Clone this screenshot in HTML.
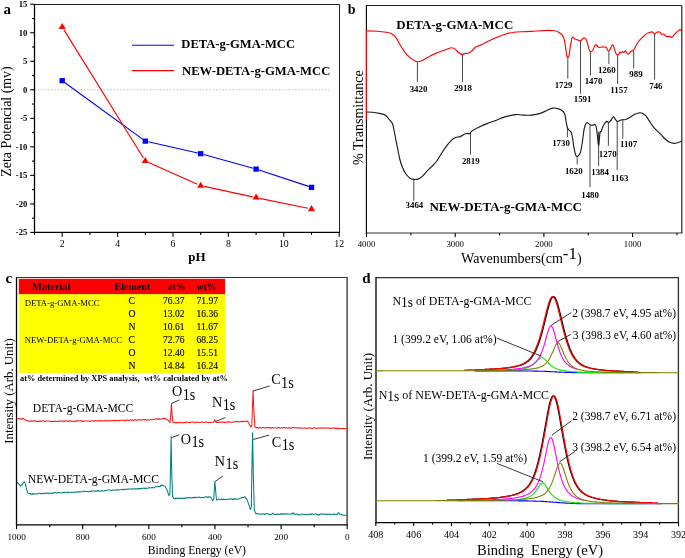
<!DOCTYPE html><html><head><meta charset="utf-8"><title>Figure</title><style>html,body{margin:0;padding:0;background:#fff}svg{display:block}text{font-family:'Liberation Serif', 'Times New Roman', serif}</style></head><body>
<svg width="685" height="558" viewBox="0 0 685 558">
<rect width="685" height="558" fill="#fff"/>
<line x1="34.50" y1="89.80" x2="329.00" y2="89.80" stroke="#b8b8b8" stroke-width="1.00" stroke-dasharray="1.4 1.9"/>
<line x1="34.50" y1="4.50" x2="339.50" y2="4.50" stroke="#222" stroke-width="1.00" />
<line x1="339.50" y1="4.50" x2="339.50" y2="232.40" stroke="#222" stroke-width="1.00" />
<line x1="34.50" y1="4.00" x2="34.50" y2="233.00" stroke="#000" stroke-width="1.30" />
<line x1="33.90" y1="232.40" x2="340.00" y2="232.40" stroke="#000" stroke-width="1.30" />
<line x1="30.20" y1="4.22" x2="34.50" y2="4.22" stroke="#000" stroke-width="1.10" />
<text x="27.30" y="7.22" font-size="8.60" font-weight="bold" text-anchor="end" fill="#000">15</text>
<line x1="30.20" y1="32.75" x2="34.50" y2="32.75" stroke="#000" stroke-width="1.10" />
<text x="27.30" y="35.75" font-size="8.60" font-weight="bold" text-anchor="end" fill="#000">10</text>
<line x1="30.20" y1="61.27" x2="34.50" y2="61.27" stroke="#000" stroke-width="1.10" />
<text x="27.30" y="64.28" font-size="8.60" font-weight="bold" text-anchor="end" fill="#000">5</text>
<line x1="30.20" y1="89.80" x2="34.50" y2="89.80" stroke="#000" stroke-width="1.10" />
<text x="27.30" y="92.80" font-size="8.60" font-weight="bold" text-anchor="end" fill="#000">0</text>
<line x1="30.20" y1="118.32" x2="34.50" y2="118.32" stroke="#000" stroke-width="1.10" />
<text x="27.30" y="121.32" font-size="8.60" font-weight="bold" text-anchor="end" fill="#000">-5</text>
<line x1="30.20" y1="146.85" x2="34.50" y2="146.85" stroke="#000" stroke-width="1.10" />
<text x="27.30" y="149.85" font-size="8.60" font-weight="bold" text-anchor="end" fill="#000">-10</text>
<line x1="30.20" y1="175.38" x2="34.50" y2="175.38" stroke="#000" stroke-width="1.10" />
<text x="27.30" y="178.38" font-size="8.60" font-weight="bold" text-anchor="end" fill="#000">-15</text>
<line x1="30.20" y1="203.90" x2="34.50" y2="203.90" stroke="#000" stroke-width="1.10" />
<text x="27.30" y="206.90" font-size="8.60" font-weight="bold" text-anchor="end" fill="#000">-20</text>
<line x1="30.20" y1="232.43" x2="34.50" y2="232.43" stroke="#000" stroke-width="1.10" />
<text x="27.30" y="235.43" font-size="8.60" font-weight="bold" text-anchor="end" fill="#000">-25</text>
<line x1="32.00" y1="18.49" x2="34.50" y2="18.49" stroke="#000" stroke-width="1.10" />
<line x1="32.00" y1="47.01" x2="34.50" y2="47.01" stroke="#000" stroke-width="1.10" />
<line x1="32.00" y1="75.54" x2="34.50" y2="75.54" stroke="#000" stroke-width="1.10" />
<line x1="32.00" y1="104.06" x2="34.50" y2="104.06" stroke="#000" stroke-width="1.10" />
<line x1="32.00" y1="132.59" x2="34.50" y2="132.59" stroke="#000" stroke-width="1.10" />
<line x1="32.00" y1="161.11" x2="34.50" y2="161.11" stroke="#000" stroke-width="1.10" />
<line x1="32.00" y1="189.64" x2="34.50" y2="189.64" stroke="#000" stroke-width="1.10" />
<line x1="32.00" y1="218.16" x2="34.50" y2="218.16" stroke="#000" stroke-width="1.10" />
<line x1="62.20" y1="232.40" x2="62.20" y2="236.70" stroke="#000" stroke-width="1.10" />
<text x="62.20" y="247.30" font-size="9.80" text-anchor="middle" fill="#000">2</text>
<line x1="117.60" y1="232.40" x2="117.60" y2="236.70" stroke="#000" stroke-width="1.10" />
<text x="117.60" y="247.30" font-size="9.80" text-anchor="middle" fill="#000">4</text>
<line x1="173.00" y1="232.40" x2="173.00" y2="236.70" stroke="#000" stroke-width="1.10" />
<text x="173.00" y="247.30" font-size="9.80" text-anchor="middle" fill="#000">6</text>
<line x1="228.40" y1="232.40" x2="228.40" y2="236.70" stroke="#000" stroke-width="1.10" />
<text x="228.40" y="247.30" font-size="9.80" text-anchor="middle" fill="#000">8</text>
<line x1="283.80" y1="232.40" x2="283.80" y2="236.70" stroke="#000" stroke-width="1.10" />
<text x="283.80" y="247.30" font-size="9.80" text-anchor="middle" fill="#000">10</text>
<line x1="339.20" y1="232.40" x2="339.20" y2="236.70" stroke="#000" stroke-width="1.10" />
<text x="339.20" y="247.30" font-size="9.80" text-anchor="middle" fill="#000">12</text>
<line x1="34.50" y1="232.40" x2="34.50" y2="234.90" stroke="#000" stroke-width="1.10" />
<line x1="89.90" y1="232.40" x2="89.90" y2="234.90" stroke="#000" stroke-width="1.10" />
<line x1="145.30" y1="232.40" x2="145.30" y2="234.90" stroke="#000" stroke-width="1.10" />
<line x1="200.70" y1="232.40" x2="200.70" y2="234.90" stroke="#000" stroke-width="1.10" />
<line x1="256.10" y1="232.40" x2="256.10" y2="234.90" stroke="#000" stroke-width="1.10" />
<line x1="311.50" y1="232.40" x2="311.50" y2="234.90" stroke="#000" stroke-width="1.10" />
<line x1="64.63" y1="82.44" x2="142.87" y2="139.38" stroke="#0000ff" stroke-width="1.15" />
<line x1="148.23" y1="141.81" x2="197.77" y2="153.03" stroke="#0000ff" stroke-width="1.15" />
<line x1="203.59" y1="154.50" x2="253.21" y2="168.30" stroke="#0000ff" stroke-width="1.15" />
<line x1="258.95" y1="170.04" x2="308.65" y2="186.42" stroke="#0000ff" stroke-width="1.15" />
<rect x="59.50" y="78.07" width="5.4" height="5.2" fill="#0000ff"/>
<rect x="142.60" y="138.54" width="5.4" height="5.2" fill="#0000ff"/>
<rect x="198.00" y="151.10" width="5.4" height="5.2" fill="#0000ff"/>
<rect x="253.40" y="166.50" width="5.4" height="5.2" fill="#0000ff"/>
<rect x="308.80" y="184.76" width="5.4" height="5.2" fill="#0000ff"/>
<line x1="64.10" y1="30.10" x2="143.40" y2="158.05" stroke="#ff0000" stroke-width="1.15" />
<line x1="148.59" y1="162.57" x2="197.41" y2="184.19" stroke="#ff0000" stroke-width="1.15" />
<line x1="204.22" y1="186.40" x2="252.58" y2="196.86" stroke="#ff0000" stroke-width="1.15" />
<line x1="259.63" y1="198.35" x2="307.97" y2="208.31" stroke="#ff0000" stroke-width="1.15" />
<polygon points="62.20,23.04 58.60,29.04 65.80,29.04" fill="#ff0000"/>
<polygon points="145.30,157.11 141.70,163.11 148.90,163.11" fill="#ff0000"/>
<polygon points="200.70,181.64 197.10,187.64 204.30,187.64" fill="#ff0000"/>
<polygon points="256.10,193.62 252.50,199.62 259.70,199.62" fill="#ff0000"/>
<polygon points="311.50,205.03 307.90,211.03 315.10,211.03" fill="#ff0000"/>
<line x1="132.00" y1="45.20" x2="174.00" y2="45.20" stroke="#0000ff" stroke-width="1.15" />
<line x1="132.00" y1="70.60" x2="174.00" y2="70.60" stroke="#ff0000" stroke-width="1.15" />
<text x="181.30" y="48.30" font-size="13.20" font-weight="bold" text-anchor="start" textLength="113.7" lengthAdjust="spacingAndGlyphs" fill="#000">DETA-g-GMA-MCC</text>
<text x="182.00" y="74.90" font-size="13.20" font-weight="bold" text-anchor="start" textLength="148.3" lengthAdjust="spacingAndGlyphs" fill="#000">NEW-DETA-g-GMA-MCC</text>
<text x="3.60" y="13.80" font-size="15.00" font-weight="bold" text-anchor="start" fill="#000">a</text>
<text x="197.00" y="261.00" font-size="13.00" font-weight="bold" text-anchor="middle" fill="#000">pH</text>
<text x="11.00" y="121.50" font-size="13.90" text-anchor="middle" transform="rotate(-90 11.00 121.50)" fill="#000">Zeta Potencial (mv)</text>
<line x1="366.40" y1="5.50" x2="681.80" y2="5.50" stroke="#222" stroke-width="1.00" />
<line x1="681.80" y1="5.50" x2="681.80" y2="233.00" stroke="#222" stroke-width="1.20" />
<line x1="366.40" y1="5.00" x2="366.40" y2="233.60" stroke="#000" stroke-width="1.10" />
<line x1="365.80" y1="233.00" x2="682.40" y2="233.00" stroke="#333" stroke-width="1.20" />
<line x1="366.50" y1="233.00" x2="366.50" y2="237.00" stroke="#000" stroke-width="1.10" />
<text x="366.50" y="246.90" font-size="8.80" text-anchor="middle" fill="#000">4000</text>
<line x1="455.20" y1="233.00" x2="455.20" y2="237.00" stroke="#000" stroke-width="1.10" />
<text x="455.20" y="246.90" font-size="8.80" text-anchor="middle" fill="#000">3000</text>
<line x1="543.90" y1="233.00" x2="543.90" y2="237.00" stroke="#000" stroke-width="1.10" />
<text x="543.90" y="246.90" font-size="8.80" text-anchor="middle" fill="#000">2000</text>
<line x1="632.60" y1="233.00" x2="632.60" y2="237.00" stroke="#000" stroke-width="1.10" />
<text x="632.60" y="246.90" font-size="8.80" text-anchor="middle" fill="#000">1000</text>
<line x1="410.85" y1="233.00" x2="410.85" y2="235.30" stroke="#000" stroke-width="1.10" />
<line x1="499.55" y1="233.00" x2="499.55" y2="235.30" stroke="#000" stroke-width="1.10" />
<line x1="588.25" y1="233.00" x2="588.25" y2="235.30" stroke="#000" stroke-width="1.10" />
<line x1="676.95" y1="233.00" x2="676.95" y2="235.30" stroke="#000" stroke-width="1.10" />
<line x1="417.40" y1="62.20" x2="417.40" y2="81.90" stroke="#333" stroke-width="0.90" />
<text x="418.50" y="91.80" font-size="8.90" font-weight="bold" text-anchor="middle" fill="#000">3420</text>
<line x1="462.50" y1="54.80" x2="462.50" y2="81.90" stroke="#333" stroke-width="0.90" />
<text x="463.00" y="90.90" font-size="8.90" font-weight="bold" text-anchor="middle" fill="#000">2918</text>
<line x1="567.80" y1="57.70" x2="567.80" y2="78.80" stroke="#333" stroke-width="0.90" />
<text x="563.50" y="87.90" font-size="8.90" font-weight="bold" text-anchor="middle" fill="#000">1729</text>
<line x1="580.50" y1="41.00" x2="580.50" y2="93.80" stroke="#333" stroke-width="0.90" />
<text x="582.60" y="102.10" font-size="8.90" font-weight="bold" text-anchor="middle" fill="#000">1591</text>
<line x1="590.50" y1="52.10" x2="590.50" y2="75.30" stroke="#333" stroke-width="0.90" />
<text x="593.50" y="83.90" font-size="8.90" font-weight="bold" text-anchor="middle" fill="#000">1470</text>
<line x1="608.90" y1="51.60" x2="608.90" y2="63.90" stroke="#333" stroke-width="0.90" />
<text x="606.80" y="72.60" font-size="8.90" font-weight="bold" text-anchor="middle" fill="#000">1260</text>
<line x1="617.60" y1="55.40" x2="617.60" y2="84.10" stroke="#333" stroke-width="0.90" />
<text x="619.00" y="92.60" font-size="8.90" font-weight="bold" text-anchor="middle" fill="#000">1157</text>
<line x1="633.70" y1="50.70" x2="633.70" y2="68.60" stroke="#333" stroke-width="0.90" />
<text x="636.00" y="76.80" font-size="8.90" font-weight="bold" text-anchor="middle" fill="#000">989</text>
<line x1="654.60" y1="34.00" x2="654.60" y2="79.70" stroke="#333" stroke-width="0.90" />
<text x="655.90" y="89.10" font-size="8.90" font-weight="bold" text-anchor="middle" fill="#000">746</text>
<line x1="413.80" y1="180.00" x2="413.80" y2="200.70" stroke="#333" stroke-width="0.90" />
<text x="414.40" y="208.00" font-size="8.90" font-weight="bold" text-anchor="middle" fill="#000">3464</text>
<line x1="470.50" y1="133.70" x2="470.50" y2="154.50" stroke="#333" stroke-width="0.90" />
<text x="470.80" y="163.60" font-size="8.90" font-weight="bold" text-anchor="middle" fill="#000">2819</text>
<line x1="567.40" y1="127.80" x2="567.40" y2="137.10" stroke="#333" stroke-width="0.90" />
<text x="561.00" y="145.70" font-size="8.90" font-weight="bold" text-anchor="middle" fill="#000">1730</text>
<line x1="577.20" y1="156.80" x2="577.20" y2="164.40" stroke="#333" stroke-width="0.90" />
<text x="573.80" y="173.80" font-size="8.90" font-weight="bold" text-anchor="middle" fill="#000">1620</text>
<line x1="590.00" y1="125.50" x2="590.00" y2="187.00" stroke="#333" stroke-width="0.90" />
<text x="590.10" y="197.50" font-size="8.90" font-weight="bold" text-anchor="middle" fill="#000">1480</text>
<line x1="598.60" y1="131.60" x2="598.60" y2="165.90" stroke="#333" stroke-width="0.90" />
<text x="600.10" y="175.00" font-size="8.90" font-weight="bold" text-anchor="middle" fill="#000">1384</text>
<line x1="608.40" y1="122.00" x2="608.40" y2="145.70" stroke="#333" stroke-width="0.90" />
<text x="607.70" y="157.40" font-size="8.90" font-weight="bold" text-anchor="middle" fill="#000">1270</text>
<line x1="617.20" y1="122.00" x2="617.20" y2="170.30" stroke="#333" stroke-width="0.90" />
<text x="619.70" y="181.10" font-size="8.90" font-weight="bold" text-anchor="middle" fill="#000">1163</text>
<line x1="622.80" y1="120.20" x2="622.80" y2="138.70" stroke="#333" stroke-width="0.90" />
<text x="628.60" y="147.40" font-size="8.90" font-weight="bold" text-anchor="middle" fill="#000">1107</text>
<path fill="none" stroke="#1a1a1a" stroke-width="1.15" stroke-linejoin="round" d="M366.5,112.0C367.5,112.0 370.2,112.1 372.3,112.3C374.4,112.5 377.1,112.9 379.3,113.4C381.5,113.9 383.9,114.3 385.5,115.3C387.1,116.3 387.8,117.9 389.0,119.3C390.2,120.7 391.6,121.7 392.5,123.7C393.4,125.8 393.7,128.8 394.3,131.6C394.9,134.4 395.4,137.5 396.0,140.4C396.6,143.3 397.2,146.3 397.8,149.2C398.4,152.1 398.8,155.1 399.5,158.0C400.2,160.9 401.2,164.2 402.2,166.8C403.2,169.4 404.4,171.9 405.7,173.8C407.0,175.7 408.8,177.3 410.1,178.2C411.4,179.1 412.3,179.2 413.6,179.4C414.9,179.6 416.5,179.6 418.0,179.1C419.5,178.6 420.8,177.9 422.4,176.4C424.0,174.9 426.1,172.0 427.7,170.3C429.3,168.6 430.6,167.9 432.0,166.4C433.4,164.9 434.9,163.5 436.4,161.5C437.9,159.5 439.2,157.0 440.8,154.5C442.4,152.0 444.3,148.9 446.1,146.6C447.9,144.2 449.8,141.9 451.4,140.4C453.0,138.9 454.3,138.0 455.8,137.4C457.3,136.8 458.6,137.2 460.2,136.6C461.8,136.0 463.8,134.2 465.4,133.7C467.0,133.2 469.1,133.9 470.0,133.6C470.9,133.3 470.4,132.4 471.0,131.8C471.6,131.2 472.2,130.8 473.5,130.1C474.8,129.3 476.4,128.4 478.8,127.3C481.2,126.2 484.7,124.6 487.6,123.4C490.5,122.2 493.5,121.3 496.4,120.2C499.3,119.1 501.9,117.8 505.1,116.9C508.3,116.0 512.8,114.9 515.7,114.6C518.6,114.3 520.1,115.0 522.7,115.1C525.3,115.2 528.6,115.4 531.5,115.1C534.4,114.8 537.7,114.2 540.3,113.4C542.9,112.6 545.2,111.1 547.3,110.2C549.3,109.3 550.8,108.4 552.6,108.1C554.4,107.8 556.3,108.2 557.9,108.6C559.5,109.0 561.1,109.7 562.3,110.7C563.5,111.7 564.3,112.8 564.9,114.6C565.5,116.4 565.7,119.4 566.1,121.6C566.5,123.8 567.0,126.3 567.5,127.8C568.0,129.3 568.7,129.7 569.3,130.4C569.9,131.1 570.6,131.0 571.1,132.2C571.6,133.4 572.1,135.2 572.5,137.5C572.9,139.8 573.2,143.4 573.7,146.2C574.2,149.0 574.9,152.4 575.4,154.1C575.9,155.8 576.3,156.3 576.9,156.5C577.5,156.7 578.2,156.1 578.8,155.4C579.4,154.7 579.9,154.3 580.5,152.2C581.1,150.0 581.7,146.3 582.3,142.5C582.9,138.7 583.5,132.4 584.1,129.3C584.7,126.2 585.2,124.8 585.8,123.7C586.4,122.6 586.8,122.6 587.6,122.8C588.4,123.0 589.6,124.7 590.5,125.1C591.4,125.5 592.3,125.2 593.1,125.1C593.9,125.0 594.6,123.9 595.2,124.6C595.8,125.2 596.2,126.7 596.6,129.0C597.0,131.3 597.4,135.9 597.7,138.7C598.0,141.5 598.3,146.0 598.6,146.0C598.9,146.0 599.1,141.0 599.4,138.7C599.6,136.4 599.8,133.2 600.1,132.0C600.4,130.8 600.8,132.2 601.2,131.6C601.6,130.9 601.8,129.4 602.3,128.1C602.8,126.8 603.8,124.8 604.5,123.7C605.2,122.6 606.1,121.6 606.8,121.4C607.5,121.2 608.0,122.6 608.6,122.5C609.2,122.4 609.9,121.7 610.7,120.7C611.5,119.7 612.6,117.0 613.3,116.7C614.0,116.4 614.5,118.2 615.1,119.0C615.8,119.8 616.5,121.1 617.2,121.4C617.9,121.7 618.7,121.0 619.5,120.7C620.3,120.4 621.2,119.9 622.1,119.7C623.0,119.5 623.9,119.9 624.8,119.7C625.7,119.5 626.4,119.3 627.4,118.8C628.4,118.3 629.6,117.5 630.9,116.7C632.2,115.9 633.8,114.8 635.3,114.1C636.8,113.4 638.5,112.9 639.7,112.8C640.9,112.7 641.3,112.7 642.3,113.2C643.3,113.7 644.7,114.5 645.9,115.8C647.1,117.1 648.2,119.3 649.4,121.1C650.6,122.9 651.7,124.9 652.9,126.4C654.1,127.9 655.1,128.9 656.4,130.2C657.7,131.5 659.3,132.8 660.8,134.3C662.3,135.8 663.7,137.7 665.2,139.0C666.7,140.3 668.1,141.5 669.6,142.2C671.1,142.9 672.5,143.3 674.0,143.4C675.5,143.5 677.2,142.8 678.4,142.5C679.6,142.2 680.8,141.5 681.3,141.3"/>
<path fill="none" stroke="#ff0000" stroke-width="1.15" stroke-linejoin="round" d="M366.5,30.9C368.4,30.9 374.3,31.0 377.6,31.2C380.9,31.4 384.1,31.9 386.4,32.3C388.7,32.7 390.0,32.8 391.6,33.7C393.2,34.6 394.7,35.9 396.0,37.6C397.3,39.3 398.2,41.5 399.5,43.7C400.8,45.9 402.3,48.6 403.9,50.8C405.5,53.0 407.4,55.2 409.2,56.9C411.0,58.6 413.1,60.0 414.5,60.8C415.9,61.6 416.4,61.7 417.6,61.7C418.8,61.7 419.7,61.6 421.5,60.8C423.3,60.0 426.1,58.1 428.5,56.9C430.9,55.7 433.2,54.4 435.6,53.4C438.0,52.4 440.4,51.6 442.6,50.8C444.8,50.0 447.2,49.0 448.7,48.5C450.2,48.0 450.7,47.7 451.7,47.8C452.7,47.9 453.8,48.2 454.9,49.0C456.0,49.8 457.2,51.6 458.4,52.5C459.6,53.4 460.7,54.2 461.9,54.4C463.1,54.5 464.2,53.6 465.4,53.4C466.6,53.2 467.8,53.5 469.0,53.0C470.2,52.5 471.4,51.2 472.5,50.2C473.6,49.2 474.0,48.1 475.3,47.2C476.6,46.4 478.4,46.0 480.5,45.1C482.6,44.2 485.0,42.9 487.6,41.6C490.2,40.3 493.5,38.7 496.4,37.5C499.3,36.3 502.2,35.2 505.1,34.3C508.0,33.4 511.0,32.6 513.9,32.2C516.8,31.8 519.8,31.8 522.7,31.7C525.6,31.6 528.6,31.6 531.5,31.4C534.4,31.2 537.4,30.9 540.3,30.7C543.2,30.5 546.8,30.3 549.1,30.3C551.5,30.3 552.8,30.4 554.4,30.7C556.0,31.0 557.5,31.5 558.8,32.2C560.1,33.0 561.4,33.9 562.3,35.2C563.2,36.5 563.8,37.8 564.4,40.1C565.0,42.4 565.4,46.2 565.8,48.9C566.2,51.5 566.6,54.6 567.0,56.0C567.4,57.4 567.8,57.5 568.1,57.4C568.5,57.2 568.7,57.1 569.1,55.1C569.5,53.1 570.0,48.2 570.5,45.4C571.0,42.6 571.5,39.8 571.9,38.4C572.3,37.0 572.5,37.0 573.0,37.0C573.5,37.0 573.9,38.2 574.6,38.7C575.3,39.2 576.2,39.5 577.2,39.8C578.2,40.1 579.8,40.9 580.7,40.7C581.6,40.5 581.9,39.2 582.6,38.7C583.3,38.2 584.1,37.8 584.7,38.0C585.3,38.2 585.8,38.7 586.4,40.1C587.0,41.5 587.7,44.5 588.2,46.3C588.7,48.1 589.2,49.8 589.6,50.7C590.0,51.6 590.3,51.8 590.8,51.7C591.3,51.6 592.2,51.2 592.8,50.3C593.4,49.4 594.0,47.3 594.5,46.3C595.0,45.3 595.4,44.5 595.9,44.5C596.4,44.5 596.9,45.8 597.5,46.3C598.1,46.8 598.6,47.4 599.3,47.5C600.0,47.6 601.0,46.8 601.9,46.8C602.8,46.8 603.8,47.1 604.5,47.2C605.2,47.3 605.8,46.7 606.3,47.2C606.8,47.7 607.3,49.7 607.7,50.3C608.1,50.9 608.5,51.2 608.9,51.0C609.3,50.8 609.8,49.8 610.3,48.9C610.8,48.0 611.2,46.4 611.7,45.8C612.2,45.2 612.8,44.7 613.2,45.1C613.6,45.5 613.8,46.8 614.2,48.1C614.6,49.4 615.1,51.6 615.6,52.8C616.1,54.0 616.9,54.8 617.4,55.1C617.9,55.4 618.2,55.1 618.6,54.6C619.0,54.1 619.6,52.4 620.0,52.1C620.4,51.8 620.8,52.9 621.2,52.8C621.6,52.7 622.2,51.6 622.6,51.6C623.0,51.6 623.5,52.6 623.9,52.5C624.3,52.4 624.9,50.7 625.3,50.7C625.7,50.7 626.1,51.9 626.5,52.5C626.9,53.1 627.4,54.2 627.9,54.2C628.4,54.2 629.1,53.3 629.7,52.8C630.3,52.3 630.8,51.4 631.4,51.0C632.0,50.6 632.7,50.7 633.2,50.3C633.7,49.9 633.8,49.7 634.4,48.6C635.0,47.5 636.2,45.1 637.1,43.7C638.0,42.3 638.7,41.3 639.7,40.1C640.7,38.9 642.0,37.7 643.2,36.6C644.4,35.5 645.7,34.3 646.7,33.6C647.7,32.9 648.5,32.9 649.4,32.6C650.3,32.3 651.3,31.8 652.0,31.9C652.7,32.0 653.3,32.8 653.8,33.1C654.3,33.5 654.5,34.1 655.0,34.0C655.5,33.9 655.9,32.5 656.7,32.2C657.5,31.9 659.1,31.8 659.9,32.2C660.7,32.6 661.1,34.2 661.7,34.5C662.4,34.8 663.1,33.7 663.8,34.0C664.5,34.3 665.3,35.9 666.1,36.3C666.9,36.7 668.0,36.6 668.7,36.6C669.4,36.6 669.9,36.1 670.4,36.3C670.9,36.4 671.3,37.7 671.9,37.5C672.5,37.3 673.1,35.9 674.0,34.9C674.9,33.9 676.5,32.3 677.5,31.4C678.5,30.5 679.5,29.8 680.1,29.6C680.7,29.5 681.1,30.4 681.3,30.5"/>
<line x1="366.40" y1="30.50" x2="366.40" y2="119.70" stroke="#ff0000" stroke-width="1.10" />
<text x="396.30" y="28.70" font-size="12.90" font-weight="bold" text-anchor="start" textLength="117" lengthAdjust="spacingAndGlyphs" fill="#000">DETA-g-GMA-MCC</text>
<text x="429.40" y="211.10" font-size="13.00" font-weight="bold" text-anchor="start" textLength="152.6" lengthAdjust="spacingAndGlyphs" fill="#000">NEW-DETA-g-GMA-MCC</text>
<text x="347.80" y="13.80" font-size="14.00" font-weight="bold" text-anchor="start" fill="#000">b</text>
<text x="461.0" y="262.5" font-size="14.05" fill="#000">Wavenumbers(cm<tspan font-size="17" dy="-3.6">-1</tspan><tspan dy="3.6">)</tspan></text>
<text x="363.00" y="117.60" font-size="14.05" text-anchor="middle" transform="rotate(-90 363.00 117.60)" fill="#000">% Transmittance</text>
<line x1="16.50" y1="277.50" x2="347.70" y2="277.50" stroke="#333" stroke-width="1.20" />
<line x1="347.10" y1="277.50" x2="347.10" y2="524.80" stroke="#333" stroke-width="1.30" />
<line x1="16.50" y1="277.00" x2="16.50" y2="525.40" stroke="#000" stroke-width="1.30" />
<line x1="15.90" y1="524.80" x2="347.70" y2="524.80" stroke="#000" stroke-width="1.30" />
<line x1="347.20" y1="524.80" x2="347.20" y2="529.30" stroke="#000" stroke-width="1.10" />
<text x="347.20" y="539.70" font-size="9.20" text-anchor="middle" fill="#000">0</text>
<line x1="281.08" y1="524.80" x2="281.08" y2="529.30" stroke="#000" stroke-width="1.10" />
<text x="281.08" y="539.70" font-size="9.20" text-anchor="middle" fill="#000">200</text>
<line x1="214.96" y1="524.80" x2="214.96" y2="529.30" stroke="#000" stroke-width="1.10" />
<text x="214.96" y="539.70" font-size="9.20" text-anchor="middle" fill="#000">400</text>
<line x1="148.84" y1="524.80" x2="148.84" y2="529.30" stroke="#000" stroke-width="1.10" />
<text x="148.84" y="539.70" font-size="9.20" text-anchor="middle" fill="#000">600</text>
<line x1="82.72" y1="524.80" x2="82.72" y2="529.30" stroke="#000" stroke-width="1.10" />
<text x="82.72" y="539.70" font-size="9.20" text-anchor="middle" fill="#000">800</text>
<line x1="16.60" y1="524.80" x2="16.60" y2="529.30" stroke="#000" stroke-width="1.10" />
<text x="16.60" y="539.70" font-size="9.20" text-anchor="middle" fill="#000">1000</text>
<line x1="314.14" y1="524.80" x2="314.14" y2="527.30" stroke="#000" stroke-width="1.10" />
<line x1="248.02" y1="524.80" x2="248.02" y2="527.30" stroke="#000" stroke-width="1.10" />
<line x1="181.90" y1="524.80" x2="181.90" y2="527.30" stroke="#000" stroke-width="1.10" />
<line x1="115.78" y1="524.80" x2="115.78" y2="527.30" stroke="#000" stroke-width="1.10" />
<line x1="49.66" y1="524.80" x2="49.66" y2="527.30" stroke="#000" stroke-width="1.10" />
<rect x="18.8" y="278.8" width="206.3" height="15.6" fill="#ff0000"/>
<rect x="18.8" y="294.2" width="206.3" height="78.7" fill="#ffff00"/>
<text x="32.00" y="289.90" font-size="10.30" font-weight="bold" text-anchor="start" textLength="38.4" lengthAdjust="spacingAndGlyphs" fill="#000">Material</text>
<text x="114.50" y="289.90" font-size="10.10" font-weight="bold" text-anchor="start" textLength="35.8" lengthAdjust="spacingAndGlyphs" fill="#000">Element</text>
<text x="167.70" y="289.90" font-size="10.20" font-weight="bold" text-anchor="start" textLength="17.7" lengthAdjust="spacingAndGlyphs" fill="#000">at%</text>
<text x="196.40" y="289.90" font-size="10.20" font-weight="bold" text-anchor="start" textLength="20.1" lengthAdjust="spacingAndGlyphs" fill="#000">wt%</text>
<text x="24.70" y="306.20" font-size="8.70" text-anchor="start" textLength="74.9" lengthAdjust="spacingAndGlyphs" fill="#000">DETA-g-GMA-MCC</text>
<text x="24.70" y="342.70" font-size="8.70" text-anchor="start" textLength="97.3" lengthAdjust="spacingAndGlyphs" fill="#000">NEW-DETA-g-GMA-MCC</text>
<text x="128.60" y="304.00" font-size="9.70" text-anchor="start" stroke="#000" stroke-width="0.12" fill="#000">C</text>
<text x="163.10" y="304.00" font-size="9.50" text-anchor="start" textLength="21.4" lengthAdjust="spacingAndGlyphs" stroke="#000" stroke-width="0.12" fill="#000">76.37</text>
<text x="196.40" y="304.00" font-size="9.50" text-anchor="start" textLength="21.6" lengthAdjust="spacingAndGlyphs" stroke="#000" stroke-width="0.12" fill="#000">71.97</text>
<text x="128.60" y="316.97" font-size="9.70" text-anchor="start" stroke="#000" stroke-width="0.12" fill="#000">O</text>
<text x="163.10" y="316.97" font-size="9.50" text-anchor="start" textLength="21.4" lengthAdjust="spacingAndGlyphs" stroke="#000" stroke-width="0.12" fill="#000">13.02</text>
<text x="196.40" y="316.97" font-size="9.50" text-anchor="start" textLength="21.6" lengthAdjust="spacingAndGlyphs" stroke="#000" stroke-width="0.12" fill="#000">16.36</text>
<text x="128.60" y="329.94" font-size="9.70" text-anchor="start" stroke="#000" stroke-width="0.12" fill="#000">N</text>
<text x="163.10" y="329.94" font-size="9.50" text-anchor="start" textLength="21.4" lengthAdjust="spacingAndGlyphs" stroke="#000" stroke-width="0.12" fill="#000">10.61</text>
<text x="196.40" y="329.94" font-size="9.50" text-anchor="start" textLength="21.6" lengthAdjust="spacingAndGlyphs" stroke="#000" stroke-width="0.12" fill="#000">11.67</text>
<text x="128.60" y="342.91" font-size="9.70" text-anchor="start" stroke="#000" stroke-width="0.12" fill="#000">C</text>
<text x="163.10" y="342.91" font-size="9.50" text-anchor="start" textLength="21.4" lengthAdjust="spacingAndGlyphs" stroke="#000" stroke-width="0.12" fill="#000">72.76</text>
<text x="196.40" y="342.91" font-size="9.50" text-anchor="start" textLength="21.6" lengthAdjust="spacingAndGlyphs" stroke="#000" stroke-width="0.12" fill="#000">68.25</text>
<text x="128.60" y="355.88" font-size="9.70" text-anchor="start" stroke="#000" stroke-width="0.12" fill="#000">O</text>
<text x="163.10" y="355.88" font-size="9.50" text-anchor="start" textLength="21.4" lengthAdjust="spacingAndGlyphs" stroke="#000" stroke-width="0.12" fill="#000">12.40</text>
<text x="196.40" y="355.88" font-size="9.50" text-anchor="start" textLength="21.6" lengthAdjust="spacingAndGlyphs" stroke="#000" stroke-width="0.12" fill="#000">15.51</text>
<text x="128.60" y="368.85" font-size="9.70" text-anchor="start" stroke="#000" stroke-width="0.12" fill="#000">N</text>
<text x="163.10" y="368.85" font-size="9.50" text-anchor="start" textLength="21.4" lengthAdjust="spacingAndGlyphs" stroke="#000" stroke-width="0.12" fill="#000">14.84</text>
<text x="196.40" y="368.85" font-size="9.50" text-anchor="start" textLength="21.6" lengthAdjust="spacingAndGlyphs" stroke="#000" stroke-width="0.12" fill="#000">16.24</text>
<text x="20.00" y="380.50" font-size="8.30" font-weight="bold" text-anchor="start" textLength="207.8" lengthAdjust="spacingAndGlyphs" xml:space="preserve" fill="#000">at% determined by XPS analysis,&#160; wt% calculated by at%</text>
<polyline fill="none" stroke="#ff1a1a" stroke-width="1.05" stroke-linejoin="round" stroke-linecap="round"  points="17.2,418.8 17.8,418.9 18.4,418.6 19.0,418.7 19.7,419.0 20.3,418.7 21.0,419.0 21.7,419.4 22.3,418.5 23.0,418.2 23.7,419.2 24.3,419.2 25.0,419.9 25.8,419.9 26.5,420.4 27.2,420.3 28.0,421.1 28.7,421.3 29.4,421.0 30.1,421.2 30.8,421.2 31.5,420.6 32.2,421.3 32.9,421.1 33.6,420.9 34.3,420.6 35.0,421.4 35.7,421.0 36.3,421.2 37.0,421.4 37.7,421.3 38.4,421.4 39.1,421.0 39.8,421.3 40.5,421.0 41.2,421.5 41.9,421.4 42.6,420.7 43.3,420.8 44.0,420.8 44.7,421.5 45.4,421.1 46.1,421.2 46.8,420.9 47.5,421.1 48.2,421.0 48.9,421.0 49.6,421.2 50.3,421.2 51.0,421.5 51.7,421.3 52.3,421.5 53.0,421.5 53.7,421.6 54.4,421.3 55.1,420.9 55.8,421.5 56.5,421.6 57.2,421.5 57.9,421.2 58.6,421.4 59.3,420.9 60.0,421.5 60.7,421.3 61.4,421.0 62.1,420.8 62.8,421.5 63.5,421.6 64.2,420.8 64.9,421.4 65.6,421.1 66.3,420.8 67.0,421.0 67.7,421.4 68.5,421.5 69.2,420.7 69.9,421.2 70.6,420.7 71.3,421.3 72.0,421.0 72.7,421.4 73.4,421.5 74.1,421.1 74.8,421.5 75.5,420.9 76.2,420.7 76.9,421.2 77.6,420.6 78.3,420.8 79.0,421.0 79.7,421.1 80.4,420.7 81.1,420.6 81.8,421.4 82.5,420.9 83.2,421.4 83.9,421.4 84.6,420.9 85.4,421.0 86.1,421.0 86.8,421.1 87.5,421.1 88.2,421.0 88.9,421.1 89.6,421.4 90.3,421.0 91.0,420.9 91.7,421.1 92.4,420.7 93.1,420.8 93.8,421.4 94.5,420.9 95.2,421.0 95.9,420.5 96.6,420.8 97.3,421.0 98.0,420.5 98.7,421.0 99.4,421.0 100.1,420.5 100.8,421.0 101.5,420.8 102.3,421.0 103.0,420.7 103.7,421.0 104.4,421.1 105.1,420.4 105.8,420.4 106.5,421.0 107.2,421.2 107.9,420.6 108.6,420.8 109.3,420.9 110.0,420.6 110.7,420.7 111.4,420.6 112.1,420.6 112.8,420.8 113.5,420.5 114.2,420.6 114.9,420.9 115.6,420.2 116.3,420.7 117.0,420.8 117.7,420.4 118.4,420.3 119.1,420.8 119.8,420.3 120.5,420.2 121.2,420.4 121.9,420.6 122.6,420.1 123.3,420.2 124.0,420.2 124.7,420.7 125.4,420.3 126.1,420.6 126.8,420.0 127.5,420.1 128.2,420.4 128.9,420.6 129.6,420.2 130.4,419.9 131.1,419.8 131.8,420.2 132.5,419.8 133.2,420.4 133.9,420.4 134.6,419.8 135.3,419.8 136.0,420.3 136.7,420.1 137.4,420.3 138.1,419.8 138.8,419.6 139.5,419.7 140.2,420.2 140.9,419.7 141.6,419.7 142.3,419.8 143.0,419.7 143.7,419.7 144.4,420.1 145.1,419.4 145.8,419.3 146.5,420.1 147.2,420.0 147.9,420.1 148.6,419.6 149.3,420.0 150.0,420.0 150.7,419.3 151.4,419.7 152.1,419.8 152.9,419.6 153.6,419.4 154.3,419.2 155.0,419.2 155.7,419.0 156.4,418.8 157.1,419.3 157.9,418.9 158.6,419.4 159.3,418.6 160.0,419.4 160.8,419.0 161.5,419.0 162.2,418.8 163.0,418.6 163.8,418.5 164.5,418.2 165.2,419.0 166.0,418.7 166.6,419.2 167.2,419.9 167.9,420.1 168.5,420.4 169.2,421.9 170.0,422.6 170.8,415.0 171.4,403.6 172.1,415.0 173.0,422.6 173.7,422.7 174.4,422.5 175.1,422.4 175.8,422.9 176.5,422.6 177.2,422.9 177.9,422.5 178.6,422.3 179.3,422.6 180.0,422.9 180.7,422.3 181.4,422.8 182.1,422.9 182.8,422.8 183.4,422.8 184.1,422.1 184.8,422.6 185.5,422.8 186.2,422.1 186.9,422.3 187.6,422.3 188.3,422.5 189.0,422.4 189.7,422.4 190.3,422.7 191.0,422.0 191.7,422.0 192.4,422.1 193.1,422.1 193.8,422.0 194.5,422.8 195.2,422.7 195.9,422.0 196.6,422.4 197.2,422.2 197.9,422.2 198.6,422.2 199.3,422.4 200.0,422.4 200.7,422.2 201.4,422.0 202.1,422.1 202.8,422.0 203.6,422.3 204.3,422.5 205.0,422.2 205.7,421.9 206.4,422.0 207.1,422.2 207.8,422.4 208.5,422.6 209.2,422.2 209.9,422.6 210.7,422.4 211.4,422.2 212.1,422.2 212.8,422.3 213.5,422.3 214.2,421.0 214.8,419.6 215.4,421.0 216.0,422.3 216.7,422.5 217.4,422.2 218.1,422.4 218.8,422.2 219.5,422.0 220.2,422.2 220.9,422.4 221.6,421.8 222.3,422.1 223.0,422.1 223.7,422.5 224.4,422.5 225.1,422.0 225.8,422.4 226.5,422.3 227.2,421.8 227.9,422.0 228.6,421.7 229.3,422.3 230.0,422.1 230.7,422.3 231.4,422.2 232.1,422.1 232.8,422.2 233.5,422.0 234.2,421.6 234.9,422.0 235.6,421.4 236.3,421.6 237.0,422.1 237.7,421.4 238.4,421.5 239.1,421.5 239.8,422.2 240.5,421.5 241.2,421.2 242.0,421.9 242.7,421.1 243.4,421.6 244.2,421.3 244.9,421.4 245.7,421.3 246.4,420.9 247.1,421.6 247.8,421.5 248.5,422.5 249.2,424.0 250.0,425.5 250.7,427.0 251.2,426.7 251.8,426.0 252.5,405.0 253.1,390.4 253.8,410.0 254.4,418.5 255.0,427.0 255.8,427.4 256.5,427.9 257.2,427.3 257.9,427.9 258.6,428.1 259.3,427.3 260.0,427.6 260.7,427.8 261.4,428.0 262.1,427.5 262.8,427.4 263.5,427.5 264.2,427.8 264.9,428.0 265.6,427.6 266.3,427.6 267.0,427.7 267.7,427.6 268.4,427.7 269.1,427.4 269.8,427.8 270.5,428.2 271.2,427.7 271.9,428.0 272.6,427.5 273.3,427.9 274.0,428.0 274.7,427.9 275.4,427.8 276.1,427.8 276.8,427.9 277.5,428.2 278.2,427.5 279.0,427.4 279.7,428.0 280.4,428.2 281.1,427.8 281.8,427.8 282.5,428.0 283.2,427.5 283.9,427.6 284.6,427.6 285.3,427.9 286.0,427.7 286.7,427.6 287.4,428.0 288.1,428.3 288.8,427.7 289.5,428.0 290.2,427.8 290.9,428.2 291.6,427.9 292.3,427.7 293.0,427.6 293.7,427.4 294.4,427.9 295.1,427.8 295.8,427.6 296.5,427.8 297.2,427.7 297.9,428.1 298.6,427.6 299.3,428.3 300.0,427.9 300.7,428.0 301.4,427.9 302.1,428.2 302.8,428.2 303.5,428.0 304.2,427.9 304.9,428.2 305.6,428.3 306.3,427.9 307.0,428.2 307.7,428.4 308.4,428.0 309.1,427.8 309.8,427.8 310.5,428.2 311.2,428.2 311.9,428.4 312.6,428.4 313.3,427.8 314.0,427.8 314.7,427.8 315.4,427.8 316.1,428.3 316.8,428.4 317.5,428.4 318.2,427.9 318.9,428.4 319.6,427.9 320.3,428.0 321.0,428.3 321.7,427.8 322.4,427.8 323.1,428.4 323.9,428.0 324.6,428.0 325.3,428.2 326.0,428.3 326.7,427.7 327.4,428.0 328.1,428.1 328.8,428.2 329.5,428.0 330.2,428.3 330.9,428.6 331.6,428.1 332.3,428.3 333.0,427.9 333.7,428.1 334.4,428.4 335.1,427.9 335.8,428.6 336.5,428.7 337.2,427.9 337.9,428.7 338.6,428.2 339.3,428.6 340.0,428.6 340.7,428.1 341.4,428.5 342.1,428.5 342.8,428.6 343.5,428.2 344.2,428.6 344.9,428.8 345.6,428.5 346.3,428.4 347.0,428.4"/>
<polyline fill="none" stroke="#008080" stroke-width="1.05" stroke-linejoin="round" stroke-linecap="round"  points="17.2,482.1 17.8,483.0 18.4,483.4 19.0,484.2 19.8,485.2 20.5,486.1 21.2,485.2 22.0,485.0 22.6,483.8 23.3,482.6 24.3,481.7 25.3,483.5 25.9,486.2 26.5,489.0 27.1,490.9 27.7,492.7 28.5,493.2 29.2,493.5 30.0,493.4 30.8,494.4 31.5,494.1 32.2,493.6 32.9,494.3 33.6,493.5 34.3,493.7 35.0,494.0 35.7,493.9 36.4,493.8 37.1,493.9 37.8,493.7 38.4,493.5 39.1,493.3 39.8,493.2 40.5,493.8 41.2,493.8 41.9,493.6 42.6,493.8 43.3,493.3 44.0,493.2 44.7,493.3 45.4,493.8 46.1,492.9 46.8,493.3 47.5,493.1 48.2,493.6 48.9,493.1 49.6,493.1 50.3,493.1 51.0,493.2 51.7,493.4 52.4,493.0 53.0,493.4 53.7,492.7 54.4,492.8 55.1,492.6 55.8,492.6 56.5,493.2 57.2,493.1 57.9,492.6 58.6,492.5 59.3,492.7 60.0,493.0 60.7,493.1 61.4,493.0 62.1,492.8 62.8,492.3 63.5,492.5 64.2,492.3 64.9,492.6 65.6,492.6 66.3,492.2 67.0,492.2 67.7,492.7 68.4,491.9 69.1,492.6 69.8,492.7 70.5,492.7 71.2,492.1 71.9,492.3 72.6,492.3 73.3,492.3 74.0,492.6 74.7,492.2 75.4,491.8 76.1,492.4 76.8,491.9 77.5,492.0 78.2,492.1 78.9,491.4 79.6,492.1 80.4,491.9 81.1,491.7 81.8,491.7 82.5,491.6 83.2,491.3 83.9,491.6 84.6,491.1 85.3,491.5 86.0,491.6 86.7,491.4 87.4,491.5 88.1,491.9 88.8,491.8 89.5,491.0 90.2,491.6 90.9,491.4 91.6,490.8 92.3,491.0 93.0,490.9 93.7,490.7 94.4,491.1 95.1,491.5 95.8,490.8 96.5,491.3 97.2,491.1 97.9,490.5 98.6,491.2 99.3,490.9 100.0,491.2 100.7,491.0 101.4,491.0 102.1,490.5 102.8,491.0 103.5,491.1 104.2,491.0 104.9,490.5 105.6,490.8 106.3,490.5 107.0,490.1 107.7,490.0 108.4,490.0 109.1,490.0 109.8,490.0 110.5,490.3 111.2,490.4 111.9,490.2 112.6,490.1 113.3,490.3 114.0,489.9 114.7,490.0 115.4,490.3 116.1,489.9 116.8,489.6 117.5,490.3 118.2,490.1 118.9,489.7 119.6,489.7 120.4,489.8 121.1,489.8 121.8,489.4 122.5,489.2 123.2,489.4 123.9,489.9 124.6,489.2 125.3,489.5 126.0,489.2 126.7,489.2 127.4,489.1 128.1,489.3 128.8,489.0 129.5,488.9 130.2,488.9 130.9,488.9 131.6,489.2 132.3,488.7 133.0,488.7 133.7,489.1 134.4,489.0 135.1,489.2 135.8,488.6 136.5,488.9 137.2,488.8 137.9,488.4 138.6,489.3 139.3,488.6 140.0,488.4 140.7,488.7 141.4,488.3 142.1,488.7 142.8,488.4 143.4,488.1 144.1,488.0 144.8,488.6 145.5,488.1 146.2,488.5 146.9,488.1 147.6,488.5 148.3,487.8 149.0,487.7 149.7,487.7 150.4,488.1 151.0,487.9 151.7,487.5 152.4,487.2 153.1,487.7 153.8,488.0 154.5,487.5 155.2,486.8 155.9,486.7 156.7,486.7 157.4,486.7 158.1,486.4 158.8,486.4 159.5,486.6 160.3,486.4 161.0,485.3 161.7,485.8 162.4,485.0 163.1,485.0 163.7,485.6 164.4,486.1 165.0,486.2 165.7,487.5 166.3,488.7 167.0,490.0 167.7,491.8 168.3,493.7 169.0,495.5 169.9,494.0 170.5,470.0 171.1,436.6 171.8,475.0 172.7,497.0 173.2,497.3 173.8,498.4 174.5,498.7 175.2,499.0 175.9,498.1 176.6,498.2 177.3,498.8 178.0,498.0 178.7,498.2 179.4,498.1 180.1,498.4 180.8,498.7 181.5,497.9 182.2,498.4 182.9,498.3 183.6,498.4 184.3,498.1 185.0,498.4 185.7,497.8 186.4,497.9 187.1,497.6 187.8,498.2 188.5,497.8 189.3,497.6 190.0,497.5 190.7,498.0 191.4,497.8 192.1,497.9 192.8,497.6 193.5,497.6 194.2,497.3 194.9,497.8 195.6,497.1 196.3,497.5 197.1,497.7 197.8,497.6 198.5,497.0 199.2,497.1 199.9,497.7 200.6,497.5 201.3,497.7 202.0,497.6 202.7,497.2 203.4,497.6 204.1,497.4 204.9,497.0 205.6,497.0 206.3,496.7 207.0,497.0 207.7,497.5 208.4,496.6 209.1,497.2 209.7,496.9 210.3,497.0 211.0,497.6 211.6,498.7 212.2,499.7 212.8,500.8 213.8,499.0 214.4,488.0 214.9,481.5 215.5,489.0 216.5,500.0 217.2,499.9 218.0,499.3 218.7,499.1 219.4,499.2 220.1,499.7 220.8,499.6 221.5,499.0 222.2,499.2 222.9,499.9 223.6,499.1 224.3,499.5 225.0,499.3 225.7,499.6 226.4,499.4 227.1,499.6 227.8,499.3 228.5,499.0 229.2,498.9 229.9,498.8 230.6,499.5 231.3,498.8 232.0,498.7 232.7,499.6 233.4,498.8 234.1,499.5 234.8,498.7 235.5,499.0 236.2,498.8 236.9,499.4 237.6,499.1 238.3,498.9 239.0,498.9 239.6,498.8 240.3,498.0 241.0,498.1 241.7,497.8 242.3,497.3 242.9,497.8 243.6,497.4 244.2,497.5 244.9,496.7 245.6,497.9 246.3,498.6 247.0,499.5 247.7,501.3 248.3,503.2 249.0,505.0 249.7,507.3 250.3,509.6 251.3,507.0 251.9,470.0 252.6,432.8 253.3,475.0 254.3,510.0 254.9,511.7 255.5,513.4 256.1,513.8 256.8,513.3 257.4,513.7 258.0,514.0 258.7,513.6 259.4,514.1 260.1,514.2 260.9,513.9 261.6,514.1 262.3,514.1 263.0,513.7 263.7,513.9 264.4,514.5 265.2,513.8 265.9,513.9 266.6,513.6 267.3,513.7 268.0,513.7 268.7,514.4 269.5,514.2 270.2,514.4 270.9,514.5 271.6,514.1 272.5,513.2 273.4,514.0 274.1,513.9 274.8,514.5 275.5,514.4 276.2,514.5 276.9,514.0 277.6,514.3 278.3,513.9 279.0,514.5 279.7,514.5 280.4,513.8 281.1,514.5 281.8,513.7 282.5,513.6 283.2,514.3 283.9,513.8 284.6,514.1 285.3,514.2 286.0,513.6 286.7,514.3 287.4,513.9 288.1,514.0 288.8,513.9 289.5,514.3 290.2,514.3 290.9,513.9 291.6,513.7 292.3,514.1 293.2,512.6 294.2,514.3 294.9,514.1 295.6,514.2 296.4,513.9 297.1,514.0 297.8,514.6 298.6,514.6 299.3,514.9 300.0,514.9 300.7,514.8 301.4,514.3 302.1,514.1 302.8,514.2 303.5,514.4 304.2,514.4 304.9,514.4 305.6,514.3 306.3,514.8 307.0,514.2 307.7,514.4 308.4,514.8 309.1,514.7 309.8,514.2 310.5,514.1 311.2,514.7 311.9,513.9 312.6,514.0 313.3,514.4 314.0,514.4 314.7,514.1 315.3,514.0 316.0,514.1 316.7,514.7 317.4,514.4 318.1,514.9 318.8,514.7 319.5,514.9 320.2,513.9 320.9,514.1 321.6,513.9 322.3,514.3 323.0,514.2 323.7,514.0 324.4,514.4 325.1,514.0 325.8,514.2 326.5,514.1 327.2,514.7 327.9,514.3 328.6,514.2 329.3,513.9 330.0,514.3 330.7,514.5 331.3,514.5 332.0,514.8 332.7,514.6 333.4,514.1 334.0,513.9 334.7,514.5 335.4,514.5 336.1,514.2 336.7,514.5 337.4,514.3 337.9,513.4 338.5,512.7 339.1,513.0 339.6,514.1 340.4,514.6 341.2,514.8 342.0,514.6 342.7,514.9 343.4,515.3 344.1,515.3 344.9,515.3 345.6,515.2 346.3,515.5 347.0,515.6"/>
<text x="32.80" y="411.80" font-size="11.65" text-anchor="start" textLength="100.5" lengthAdjust="spacingAndGlyphs" fill="#000">DETA-g-GMA-MCC</text>
<text x="27.70" y="483.00" font-size="11.65" text-anchor="start" textLength="131.3" lengthAdjust="spacingAndGlyphs" fill="#000">NEW-DETA-g-GMA-MCC</text>
<text x="171.90" y="396.30" font-size="14.20" fill="#000">O</text>
<text x="182.70" y="399.80" font-size="16" fill="#000" textLength="12.6" lengthAdjust="spacingAndGlyphs">1s</text>
<line x1="171.50" y1="403.40" x2="179.20" y2="400.00" stroke="#222" stroke-width="0.90" />
<text x="211.90" y="406.50" font-size="14.20" fill="#000">N</text>
<text x="222.70" y="410.00" font-size="16" fill="#000" textLength="12.6" lengthAdjust="spacingAndGlyphs">1s</text>
<line x1="215.70" y1="421.40" x2="225.30" y2="417.60" stroke="#222" stroke-width="0.90" />
<text x="271.20" y="384.00" font-size="14.20" fill="#000">C</text>
<text x="281.10" y="387.50" font-size="16" fill="#000" textLength="12.6" lengthAdjust="spacingAndGlyphs">1s</text>
<line x1="253.20" y1="391.00" x2="269.70" y2="386.00" stroke="#222" stroke-width="0.90" />
<text x="180.70" y="443.60" font-size="14.20" fill="#000">O</text>
<text x="191.50" y="447.10" font-size="16" fill="#000" textLength="12.6" lengthAdjust="spacingAndGlyphs">1s</text>
<line x1="171.40" y1="437.70" x2="179.20" y2="434.80" stroke="#222" stroke-width="0.90" />
<text x="214.80" y="465.80" font-size="14.20" fill="#000">N</text>
<text x="225.60" y="469.30" font-size="16" fill="#000" textLength="12.6" lengthAdjust="spacingAndGlyphs">1s</text>
<line x1="215.10" y1="481.50" x2="223.00" y2="476.00" stroke="#222" stroke-width="0.90" />
<text x="271.80" y="446.80" font-size="14.20" fill="#000">C</text>
<text x="281.70" y="450.30" font-size="16" fill="#000" textLength="12.6" lengthAdjust="spacingAndGlyphs">1s</text>
<line x1="253.20" y1="439.50" x2="269.10" y2="435.10" stroke="#222" stroke-width="0.90" />
<text x="5.60" y="282.80" font-size="15.00" font-weight="bold" text-anchor="start" fill="#000">c</text>
<text x="147.70" y="553.50" font-size="11.70" text-anchor="start" textLength="98.3" lengthAdjust="spacingAndGlyphs" fill="#000">Binding Energy (eV)</text>
<text x="12.80" y="391.00" font-size="12.80" text-anchor="middle" transform="rotate(-90 12.80 391.00)" fill="#000">Intensity (Arb. Unit)</text>
<line x1="376.00" y1="277.60" x2="679.00" y2="277.60" stroke="#333" stroke-width="1.25" />
<line x1="678.40" y1="277.60" x2="678.40" y2="522.60" stroke="#333" stroke-width="1.35" />
<line x1="376.00" y1="277.10" x2="376.00" y2="523.20" stroke="#000" stroke-width="1.30" />
<line x1="375.40" y1="522.60" x2="679.00" y2="522.60" stroke="#000" stroke-width="1.30" />
<line x1="678.52" y1="522.60" x2="678.52" y2="526.10" stroke="#000" stroke-width="1.10" />
<text x="678.52" y="537.90" font-size="10.10" text-anchor="middle" fill="#000">392</text>
<line x1="640.68" y1="522.60" x2="640.68" y2="526.10" stroke="#000" stroke-width="1.10" />
<text x="640.68" y="537.90" font-size="10.10" text-anchor="middle" fill="#000">394</text>
<line x1="602.84" y1="522.60" x2="602.84" y2="526.10" stroke="#000" stroke-width="1.10" />
<text x="602.84" y="537.90" font-size="10.10" text-anchor="middle" fill="#000">396</text>
<line x1="565.00" y1="522.60" x2="565.00" y2="526.10" stroke="#000" stroke-width="1.10" />
<text x="565.00" y="537.90" font-size="10.10" text-anchor="middle" fill="#000">398</text>
<line x1="527.16" y1="522.60" x2="527.16" y2="526.10" stroke="#000" stroke-width="1.10" />
<text x="527.16" y="537.90" font-size="10.10" text-anchor="middle" fill="#000">400</text>
<line x1="489.32" y1="522.60" x2="489.32" y2="526.10" stroke="#000" stroke-width="1.10" />
<text x="489.32" y="537.90" font-size="10.10" text-anchor="middle" fill="#000">402</text>
<line x1="451.48" y1="522.60" x2="451.48" y2="526.10" stroke="#000" stroke-width="1.10" />
<text x="451.48" y="537.90" font-size="10.10" text-anchor="middle" fill="#000">404</text>
<line x1="413.64" y1="522.60" x2="413.64" y2="526.10" stroke="#000" stroke-width="1.10" />
<text x="413.64" y="537.90" font-size="10.10" text-anchor="middle" fill="#000">406</text>
<line x1="375.80" y1="522.60" x2="375.80" y2="526.10" stroke="#000" stroke-width="1.10" />
<text x="375.80" y="537.90" font-size="10.10" text-anchor="middle" fill="#000">408</text>
<line x1="659.60" y1="522.60" x2="659.60" y2="524.60" stroke="#000" stroke-width="1.10" />
<line x1="621.76" y1="522.60" x2="621.76" y2="524.60" stroke="#000" stroke-width="1.10" />
<line x1="583.92" y1="522.60" x2="583.92" y2="524.60" stroke="#000" stroke-width="1.10" />
<line x1="546.08" y1="522.60" x2="546.08" y2="524.60" stroke="#000" stroke-width="1.10" />
<line x1="508.24" y1="522.60" x2="508.24" y2="524.60" stroke="#000" stroke-width="1.10" />
<line x1="470.40" y1="522.60" x2="470.40" y2="524.60" stroke="#000" stroke-width="1.10" />
<line x1="432.56" y1="522.60" x2="432.56" y2="524.60" stroke="#000" stroke-width="1.10" />
<line x1="394.72" y1="522.60" x2="394.72" y2="524.60" stroke="#000" stroke-width="1.10" />
<polyline fill="none" stroke="#000" stroke-width="1.25" stroke-linejoin="round" stroke-linecap="round"  points="476.0,369.8 476.8,369.7 477.6,369.7 478.4,369.7 479.2,369.7 480.0,369.6 480.8,369.6 481.6,369.6 482.4,369.6 483.2,369.5 484.0,369.5 484.8,369.5 485.6,369.4 486.4,369.4 487.2,369.4 488.0,369.3 488.8,369.3 489.6,369.3 490.4,369.2 491.2,369.2 492.0,369.1 492.8,369.1 493.6,369.0 494.4,369.0 495.2,368.9 496.0,368.9 496.8,368.8 497.6,368.8 498.4,368.7 499.2,368.7 500.0,368.6 500.8,368.5 501.6,368.5 502.4,368.4 503.2,368.3 504.0,368.2 504.8,368.1 505.6,368.1 506.4,368.0 507.2,367.9 508.0,367.8 508.8,367.7 509.6,367.6 510.4,367.4 511.2,367.3 512.0,367.2 512.8,367.0 513.6,366.9 514.4,366.8 515.2,366.6 516.0,366.4 516.8,366.2 517.6,366.0 518.4,365.8 519.2,365.6 520.0,365.4 520.8,365.1 521.6,364.8 522.4,364.5 523.2,364.1 524.0,363.8 524.8,363.4 525.6,362.9 526.4,362.4 527.2,361.8 528.0,361.2 528.8,360.5 529.6,359.8 530.4,359.0 531.2,358.0 532.0,357.0 532.8,355.9 533.6,354.6 534.4,353.2 535.2,351.7 536.0,350.1 536.8,348.3 537.6,346.3 538.4,344.2 539.2,342.0 540.0,339.5 540.8,336.9 541.6,334.2 542.4,331.3 543.2,328.3 544.0,325.1 544.8,321.9 545.6,318.7 546.4,315.4 547.2,312.2 548.0,309.0 548.8,306.1 549.6,303.4 550.4,301.0 551.2,299.1 552.0,297.7 552.8,296.8 553.6,296.6 554.4,296.9 555.2,297.9 556.0,299.4 556.8,301.4 557.6,303.8 558.4,306.6 559.2,309.6 560.0,312.8 560.8,316.1 561.6,319.4 562.4,322.8 563.2,326.1 564.0,329.3 564.8,332.3 565.6,335.3 566.4,338.1 567.2,340.7 568.0,343.2 568.8,345.5 569.6,347.7 570.4,349.7 571.2,351.5 572.0,353.2 572.8,354.7 573.6,356.1 574.4,357.4 575.2,358.6 576.0,359.6 576.8,360.6 577.6,361.4 578.4,362.2 579.2,362.9 580.0,363.5 580.8,364.1 581.6,364.6 582.4,365.1 583.2,365.5 584.0,365.9 584.8,366.3 585.6,366.6 586.4,366.9 587.2,367.2 588.0,367.4 588.8,367.6 589.6,367.9 590.4,368.1 591.2,368.3 592.0,368.4 592.8,368.6 593.6,368.8 594.4,368.9 595.2,369.0 596.0,369.2 596.8,369.3 597.6,369.4 598.4,369.5 599.2,369.6 600.0,369.7 600.8,369.8 601.6,369.9 602.4,370.0 603.2,370.1 604.0,370.2 604.8,370.3 605.6,370.3 606.4,370.4 607.2,370.5 608.0,370.5 608.8,370.6 609.6,370.7 610.4,370.7 611.2,370.8 612.0,370.8 612.8,370.9 613.6,370.9 614.4,371.0 615.2,371.0 616.0,371.1 616.8,371.1 617.6,371.2 618.4,371.2 619.2,371.2 620.0,371.3 620.8,371.3 621.6,371.3 622.4,371.4 623.2,371.4 624.0,371.4 624.8,371.5 625.6,371.5 626.4,371.5 627.2,371.5 628.0,371.6 628.8,371.6"/>
<polyline fill="none" stroke="#ff0000" stroke-width="1.25" stroke-linejoin="round" stroke-linecap="round"  points="464.8,370.0 465.6,370.0 466.4,370.0 467.2,370.0 468.0,369.9 468.8,369.9 469.6,369.9 470.4,369.9 471.2,369.9 472.0,369.9 472.8,369.8 473.6,369.8 474.4,369.8 475.2,369.8 476.0,369.7 476.8,369.7 477.6,369.7 478.4,369.7 479.2,369.6 480.0,369.6 480.8,369.6 481.6,369.6 482.4,369.5 483.2,369.5 484.0,369.5 484.8,369.4 485.6,369.4 486.4,369.4 487.2,369.3 488.0,369.3 488.8,369.3 489.6,369.2 490.4,369.2 491.2,369.1 492.0,369.1 492.8,369.0 493.6,369.0 494.4,368.9 495.2,368.9 496.0,368.8 496.8,368.8 497.6,368.7 498.4,368.6 499.2,368.6 500.0,368.5 500.8,368.4 501.6,368.4 502.4,368.3 503.2,368.2 504.0,368.1 504.8,368.0 505.6,368.0 506.4,367.9 507.2,367.8 508.0,367.6 508.8,367.5 509.6,367.4 510.4,367.3 511.2,367.2 512.0,367.0 512.8,366.9 513.6,366.7 514.4,366.6 515.2,366.4 516.0,366.2 516.8,366.0 517.6,365.8 518.4,365.6 519.2,365.3 520.0,365.0 520.8,364.8 521.6,364.4 522.4,364.1 523.2,363.7 524.0,363.3 524.8,362.8 525.6,362.3 526.4,361.8 527.2,361.1 528.0,360.4 528.8,359.7 529.6,358.8 530.4,357.9 531.2,356.9 532.0,355.7 532.8,354.4 533.6,353.0 534.4,351.5 535.2,349.8 536.0,348.0 536.8,346.1 537.6,343.9 538.4,341.6 539.2,339.2 540.0,336.6 540.8,333.8 541.6,330.9 542.4,327.9 543.2,324.7 544.0,321.5 544.8,318.2 545.6,314.9 546.4,311.7 547.2,308.6 548.0,305.7 548.8,303.0 549.6,300.7 550.4,298.9 551.2,297.5 552.0,296.7 552.8,296.5 553.6,297.0 554.4,298.0 555.2,299.6 556.0,301.6 556.8,304.1 557.6,306.9 558.4,309.9 559.2,313.2 560.0,316.5 560.8,319.8 561.6,323.2 562.4,326.4 563.2,329.6 564.0,332.7 564.8,335.6 565.6,338.4 566.4,341.0 567.2,343.5 568.0,345.8 568.8,347.9 569.6,349.9 570.4,351.7 571.2,353.4 572.0,354.9 572.8,356.3 573.6,357.6 574.4,358.7 575.2,359.7 576.0,360.7 576.8,361.5 577.6,362.3 578.4,363.0 579.2,363.6 580.0,364.2 580.8,364.7 581.6,365.1 582.4,365.6 583.2,366.0 584.0,366.3 584.8,366.6 585.6,366.9 586.4,367.2 587.2,367.4 588.0,367.7 588.8,367.9 589.6,368.1 590.4,368.3 591.2,368.5 592.0,368.6 592.8,368.8 593.6,368.9 594.4,369.1 595.2,369.2 596.0,369.3 596.8,369.4 597.6,369.6 598.4,369.7 599.2,369.8 600.0,369.9 600.8,369.9 601.6,370.0 602.4,370.1 603.2,370.2 604.0,370.3 604.8,370.4 605.6,370.4 606.4,370.5 607.2,370.6 608.0,370.6 608.8,370.7 609.6,370.7 610.4,370.8 611.2,370.8 612.0,370.9 612.8,370.9 613.6,371.0 614.4,371.0 615.2,371.1 616.0,371.1 616.8,371.2 617.6,371.2 618.4,371.2 619.2,371.3 620.0,371.3 620.8,371.3 621.6,371.4 622.4,371.4 623.2,371.4 624.0,371.5 624.8,371.5 625.6,371.5 626.4,371.5 627.2,371.6 628.0,371.6 628.8,371.6 629.6,371.6 630.4,371.7 631.2,371.7 632.0,371.7 632.8,371.7 633.6,371.8 634.4,371.8 635.2,371.8 636.0,371.8 636.8,371.8 637.6,371.9"/>
<polyline fill="none" stroke="#0000ff" stroke-width="1.10" stroke-linejoin="round" stroke-linecap="round"  points="475.2,370.9 476.0,370.9 476.8,370.9 477.6,370.9 478.4,370.9 479.2,370.9 480.0,370.9 480.8,370.9 481.6,370.9 482.4,370.9 483.2,370.9 484.0,370.9 484.8,370.9 485.6,370.9 486.4,370.9 487.2,370.9 488.0,370.9 488.8,370.9 489.6,370.9 490.4,370.9 491.2,370.9 492.0,370.9 492.8,370.9 493.6,370.9 494.4,370.9 495.2,370.9 496.0,370.9 496.8,370.9 497.6,370.9 498.4,370.9 499.2,370.9 500.0,370.9 500.8,370.9 501.6,370.9 502.4,370.9 503.2,370.9 504.0,370.9 504.8,370.9 505.6,370.9 506.4,370.9 507.2,370.9 508.0,370.9 508.8,370.9 509.6,370.9 510.4,370.9 511.2,370.9 512.0,370.9 512.8,370.9 513.6,370.9 514.4,370.9 515.2,370.9 516.0,370.9 516.8,370.9 517.6,370.9 518.4,370.9 519.2,370.9 520.0,370.9 520.8,370.9 521.6,370.9 522.4,370.9 523.2,371.0 524.0,371.0 524.8,371.0 525.6,371.0 526.4,371.0 527.2,371.0 528.0,371.0 528.8,371.0 529.6,371.0 530.4,371.0 531.2,371.0 532.0,371.0 532.8,371.0 533.6,371.1 534.4,371.1 535.2,371.1 536.0,371.1 536.8,371.1 537.6,371.1 538.4,371.2 539.2,371.2 540.0,371.2 540.8,371.2 541.6,371.2 542.4,371.3 543.2,371.3 544.0,371.3 544.8,371.4 545.6,371.4 546.4,371.4 547.2,371.5 548.0,371.5 548.8,371.5 549.6,371.6 550.4,371.6 551.2,371.7 552.0,371.7 552.8,371.7 553.6,371.8 554.4,371.8 555.2,371.9 556.0,371.9 556.8,371.9 557.6,372.0 558.4,372.0 559.2,372.1 560.0,372.1 560.8,372.1 561.6,372.2 562.4,372.2 563.2,372.3 564.0,372.3 564.8,372.3 565.6,372.4 566.4,372.4 567.2,372.4 568.0,372.4 568.8,372.5 569.6,372.5 570.4,372.5 571.2,372.5 572.0,372.6 572.8,372.6 573.6,372.6 574.4,372.6 575.2,372.6 576.0,372.6 576.8,372.6 577.6,372.7 578.4,372.7 579.2,372.7 580.0,372.7 580.8,372.7 581.6,372.7 582.4,372.7 583.2,372.7 584.0,372.7 584.8,372.7 585.6,372.7 586.4,372.7 587.2,372.7 588.0,372.8 588.8,372.8 589.6,372.8 590.4,372.8 591.2,372.8 592.0,372.8 592.8,372.8 593.6,372.8 594.4,372.8 595.2,372.8 596.0,372.8 596.8,372.8 597.6,372.8 598.4,372.8 599.2,372.8 600.0,372.8 600.8,372.8 601.6,372.8 602.4,372.8 603.2,372.8 604.0,372.8 604.8,372.8 605.6,372.8 606.4,372.8 607.2,372.8 608.0,372.8 608.8,372.8 609.6,372.8 610.4,372.8 611.2,372.8 612.0,372.8 612.8,372.8 613.6,372.8 614.4,372.8 615.2,372.8 616.0,372.8 616.8,372.8 617.6,372.8 618.4,372.8 619.2,372.8 620.0,372.8 620.8,372.8 621.6,372.8 622.4,372.8 623.2,372.8 624.0,372.8 624.8,372.8 625.6,372.8 626.4,372.8 627.2,372.8 628.0,372.8 628.8,372.8 629.6,372.8 630.4,372.8 631.2,372.8 632.0,372.8 632.8,372.8 633.6,372.8 634.4,372.8 635.2,372.8 636.0,372.8 636.8,372.8 637.6,372.8 638.4,372.8 639.2,372.8 640.0,372.8 640.8,372.8"/>
<polyline fill="none" stroke="#00ee00" stroke-width="1.10" stroke-linejoin="round" stroke-linecap="round"  points="513.6,369.9 514.4,369.9 515.2,369.8 516.0,369.8 516.8,369.7 517.6,369.6 518.4,369.5 519.2,369.5 520.0,369.4 520.8,369.3 521.6,369.1 522.4,369.0 523.2,368.9 524.0,368.7 524.8,368.5 525.6,368.3 526.4,368.1 527.2,367.8 528.0,367.5 528.8,367.2 529.6,366.8 530.4,366.4 531.2,365.9 532.0,365.4 532.8,364.8 533.6,364.1 534.4,363.4 535.2,362.7 536.0,361.9 536.8,361.1 537.6,360.2 538.4,359.4 539.2,358.8 540.0,358.2 540.8,357.8 541.6,357.7 542.4,357.7 543.2,358.1 544.0,358.6 544.8,359.3 545.6,360.1 546.4,360.9"/>
<polyline fill="none" stroke="#00ee00" stroke-width="1.10" stroke-linejoin="round" stroke-linecap="round"  points="548.0,362.7 548.8,363.5 549.6,364.3 550.4,365.0 551.2,365.7 552.0,366.3 552.8,366.9 553.6,367.4 554.4,367.8 555.2,368.2 556.0,368.6 556.8,368.9 557.6,369.2 558.4,369.5 559.2,369.7 560.0,369.9 560.8,370.1 561.6,370.3 562.4,370.5 563.2,370.6 564.0,370.8 564.8,370.9 565.6,371.0 566.4,371.1 567.2,371.2 568.0,371.3 568.8,371.4 569.6,371.5 570.4,371.5 571.2,371.6 572.0,371.7 572.8,371.7 573.6,371.8 574.4,371.8 575.2,371.9 576.0,371.9 576.8,372.0 577.6,372.0 578.4,372.1 579.2,372.1 580.0,372.1 580.8,372.2 581.6,372.2 582.4,372.2 583.2,372.2 584.0,372.3 584.8,372.3 585.6,372.3 586.4,372.3 587.2,372.3 588.0,372.4 588.8,372.4 589.6,372.4 590.4,372.4 591.2,372.4 592.0,372.4 592.8,372.5 593.6,372.5 594.4,372.5 595.2,372.5 596.0,372.5 596.8,372.5 597.6,372.5 598.4,372.5 599.2,372.5 600.0,372.5 600.8,372.5 601.6,372.6 602.4,372.6 603.2,372.6 604.0,372.6 604.8,372.6 605.6,372.6 606.4,372.6 607.2,372.6 608.0,372.6 608.8,372.6 609.6,372.6 610.4,372.6 611.2,372.6 612.0,372.6 612.8,372.6 613.6,372.6 614.4,372.6 615.2,372.6 616.0,372.6 616.8,372.6 617.6,372.7 618.4,372.7 619.2,372.7 620.0,372.7 620.8,372.7 621.6,372.7 622.4,372.7 623.2,372.7 624.0,372.7"/>
<polyline fill="none" stroke="#ff00ff" stroke-width="1.10" stroke-linejoin="round" stroke-linecap="round"  points="475.2,370.5 476.0,370.4 476.8,370.4 477.6,370.4 478.4,370.4 479.2,370.4 480.0,370.4 480.8,370.4 481.6,370.4 482.4,370.4 483.2,370.3 484.0,370.3 484.8,370.3 485.6,370.3 486.4,370.3 487.2,370.3 488.0,370.3 488.8,370.2 489.6,370.2 490.4,370.2 491.2,370.2 492.0,370.2 492.8,370.2 493.6,370.1 494.4,370.1 495.2,370.1 496.0,370.1 496.8,370.0 497.6,370.0 498.4,370.0 499.2,370.0 500.0,369.9 500.8,369.9 501.6,369.9 502.4,369.8 503.2,369.8 504.0,369.8 504.8,369.7 505.6,369.7 506.4,369.7 507.2,369.6 508.0,369.6 508.8,369.5 509.6,369.5 510.4,369.4 511.2,369.4 512.0,369.3 512.8,369.2 513.6,369.2 514.4,369.1 515.2,369.0 516.0,368.9 516.8,368.8 517.6,368.7 518.4,368.6 519.2,368.5 520.0,368.4 520.8,368.3 521.6,368.2 522.4,368.0 523.2,367.9 524.0,367.7 524.8,367.5 525.6,367.3 526.4,367.1 527.2,366.9 528.0,366.6 528.8,366.3 529.6,366.0 530.4,365.7 531.2,365.3 532.0,364.9 532.8,364.4 533.6,363.9 534.4,363.2 535.2,362.6 536.0,361.8 536.8,360.9 537.6,359.9 538.4,358.7 539.2,357.4 540.0,356.0 540.8,354.3 541.6,352.5 542.4,350.4 543.2,348.1 544.0,345.6 544.8,342.9 545.6,340.0 546.4,337.0 547.2,334.1 548.0,331.3 548.8,328.9 549.6,327.1 550.4,326.1 551.2,325.9 552.0,326.6 552.8,328.1 553.6,330.3 554.4,333.0 555.2,336.0 556.0,339.0 556.8,342.0 557.6,344.9 558.4,347.6 559.2,350.1 560.0,352.3 560.8,354.3 561.6,356.1 562.4,357.8 563.2,359.2 564.0,360.5 564.8,361.6 565.6,362.6 566.4,363.5 567.2,364.2 568.0,364.9 568.8,365.5 569.6,366.1 570.4,366.6 571.2,367.0 572.0,367.4 572.8,367.8 573.6,368.1 574.4,368.4 575.2,368.6 576.0,368.9 576.8,369.1"/>
<polyline fill="none" stroke="#808000" stroke-width="1.10" stroke-linejoin="round" stroke-linecap="round"  points="376.0,370.9 376.8,370.9 377.6,370.9 378.4,370.9 379.2,370.9 380.0,370.9 380.8,370.9 381.6,370.9 382.4,370.9 383.2,370.8 384.0,370.8 384.8,370.8 385.6,370.8 386.4,370.8 387.2,370.8 388.0,370.8 388.8,370.8 389.6,370.8 390.4,370.8 391.2,370.8 392.0,370.8 392.8,370.8 393.6,370.8 394.4,370.8 395.2,370.8 396.0,370.8 396.8,370.8 397.6,370.8 398.4,370.8 399.2,370.8 400.0,370.8 400.8,370.8 401.6,370.8 402.4,370.8 403.2,370.8 404.0,370.8 404.8,370.8 405.6,370.8 406.4,370.8 407.2,370.8 408.0,370.8 408.8,370.8 409.6,370.8 410.4,370.8 411.2,370.8 412.0,370.8 412.8,370.8 413.6,370.8 414.4,370.8 415.2,370.8 416.0,370.8 416.8,370.8 417.6,370.8 418.4,370.8 419.2,370.8 420.0,370.8 420.8,370.8 421.6,370.8 422.4,370.8 423.2,370.8 424.0,370.8 424.8,370.8 425.6,370.8 426.4,370.8 427.2,370.8 428.0,370.8 428.8,370.8 429.6,370.8 430.4,370.8 431.2,370.8 432.0,370.8 432.8,370.8 433.6,370.8 434.4,370.8 435.2,370.8 436.0,370.8 436.8,370.8 437.6,370.8 438.4,370.8 439.2,370.8 440.0,370.8 440.8,370.8 441.6,370.8 442.4,370.8 443.2,370.8 444.0,370.8 444.8,370.8 445.6,370.8 446.4,370.8 447.2,370.8 448.0,370.8 448.8,370.8 449.6,370.8 450.4,370.8 451.2,370.8 452.0,370.8 452.8,370.8 453.6,370.8 454.4,370.8 455.2,370.8 456.0,370.8 456.8,370.8 457.6,370.7 458.4,370.7 459.2,370.7 460.0,370.7 460.8,370.7 461.6,370.7 462.4,370.7 463.2,370.7 464.0,370.7 464.8,370.7 465.6,370.7 466.4,370.7 467.2,370.7 468.0,370.7 468.8,370.7 469.6,370.7 470.4,370.7 471.2,370.7 472.0,370.7 472.8,370.7 473.6,370.7 474.4,370.7 475.2,370.7 476.0,370.7 476.8,370.7 477.6,370.7 478.4,370.7 479.2,370.7 480.0,370.7 480.8,370.6 481.6,370.6 482.4,370.6 483.2,370.6 484.0,370.6 484.8,370.6 485.6,370.6 486.4,370.6 487.2,370.6 488.0,370.6 488.8,370.6 489.6,370.6 490.4,370.6 491.2,370.6 492.0,370.6 492.8,370.5 493.6,370.5 494.4,370.5 495.2,370.5 496.0,370.5 496.8,370.5 497.6,370.5 498.4,370.5 499.2,370.5 500.0,370.5 500.8,370.4 501.6,370.4 502.4,370.4 503.2,370.4 504.0,370.4 504.8,370.4 505.6,370.4 506.4,370.3 507.2,370.3 508.0,370.3 508.8,370.3 509.6,370.3 510.4,370.3 511.2,370.2 512.0,370.2 512.8,370.2 513.6,370.2 514.4,370.1 515.2,370.1 516.0,370.1 516.8,370.1 517.6,370.0 518.4,370.0 519.2,370.0 520.0,369.9 520.8,369.9 521.6,369.8 522.4,369.8 523.2,369.7 524.0,369.7 524.8,369.6 525.6,369.6 526.4,369.5 527.2,369.5 528.0,369.4 528.8,369.3 529.6,369.2 530.4,369.1 531.2,369.1 532.0,368.9 532.8,368.8 533.6,368.7 534.4,368.6 535.2,368.4 536.0,368.3 536.8,368.1 537.6,367.9 538.4,367.7 539.2,367.4 540.0,367.1 540.8,366.8 541.6,366.4 542.4,366.0 543.2,365.6 544.0,365.0 544.8,364.4 545.6,363.7 546.4,362.9 547.2,362.0 548.0,360.9 548.8,359.8 549.6,358.4 550.4,357.0 551.2,355.3 552.0,353.6 552.8,351.7 553.6,349.8 554.4,347.9 555.2,346.1 556.0,344.6 556.8,343.5 557.6,343.0 558.4,343.0 559.2,343.6 560.0,344.8 560.8,346.4 561.6,348.2 562.4,350.2 563.2,352.2 564.0,354.2 564.8,356.0 565.6,357.7 566.4,359.2 567.2,360.6 568.0,361.9 568.8,363.0 569.6,364.0 570.4,364.8 571.2,365.6 572.0,366.2 572.8,366.8 573.6,367.3 574.4,367.8 575.2,368.2 576.0,368.6 576.8,368.9 577.6,369.2 578.4,369.4 579.2,369.6 580.0,369.9 580.8,370.0 581.6,370.2 582.4,370.4 583.2,370.5 584.0,370.6 584.8,370.8 585.6,370.9 586.4,371.0 587.2,371.1 588.0,371.2 588.8,371.2 589.6,371.3 590.4,371.4 591.2,371.4 592.0,371.5 592.8,371.6 593.6,371.6 594.4,371.7 595.2,371.7 596.0,371.8 596.8,371.8 597.6,371.8 598.4,371.9 599.2,371.9 600.0,371.9 600.8,372.0 601.6,372.0 602.4,372.0 603.2,372.1 604.0,372.1 604.8,372.1 605.6,372.1 606.4,372.2 607.2,372.2 608.0,372.2 608.8,372.2 609.6,372.2 610.4,372.2 611.2,372.3 612.0,372.3 612.8,372.3 613.6,372.3 614.4,372.3 615.2,372.3 616.0,372.4 616.8,372.4 617.6,372.4 618.4,372.4 619.2,372.4 620.0,372.4 620.8,372.4 621.6,372.4 622.4,372.4 623.2,372.4 624.0,372.5 624.8,372.5 625.6,372.5 626.4,372.5 627.2,372.5 628.0,372.5 628.8,372.5 629.6,372.5 630.4,372.5 631.2,372.5 632.0,372.5 632.8,372.5 633.6,372.5 634.4,372.5 635.2,372.5 636.0,372.6 636.8,372.6 637.6,372.6 638.4,372.6 639.2,372.6 640.0,372.6 640.8,372.6 641.6,372.6 642.4,372.6 643.2,372.6 644.0,372.6 644.8,372.6 645.6,372.6 646.4,372.6 647.2,372.6 648.0,372.6 648.8,372.6 649.6,372.6 650.4,372.6 651.2,372.6 652.0,372.6 652.8,372.6 653.6,372.6 654.4,372.6 655.2,372.6 656.0,372.6 656.8,372.6 657.6,372.6 658.4,372.6 659.2,372.7 660.0,372.7 660.8,372.7 661.6,372.7 662.4,372.7 663.2,372.7 664.0,372.7 664.8,372.7 665.6,372.7 666.4,372.7 667.2,372.7 668.0,372.7 668.8,372.7 669.6,372.7 670.4,372.7 671.2,372.7 672.0,372.7 672.8,372.7 673.6,372.7 674.4,372.7 675.2,372.7 676.0,372.7 676.8,372.7 677.6,372.7 678.4,372.7"/>
<polyline fill="none" stroke="#000" stroke-width="1.25" stroke-linejoin="round" stroke-linecap="round"  points="458.4,499.7 459.2,499.7 460.0,499.6 460.8,499.6 461.6,499.6 462.4,499.6 463.2,499.6 464.0,499.5 464.8,499.5 465.6,499.5 466.4,499.5 467.2,499.4 468.0,499.4 468.8,499.4 469.6,499.4 470.4,499.3 471.2,499.3 472.0,499.3 472.8,499.2 473.6,499.2 474.4,499.2 475.2,499.2 476.0,499.1 476.8,499.1 477.6,499.1 478.4,499.0 479.2,499.0 480.0,498.9 480.8,498.9 481.6,498.9 482.4,498.8 483.2,498.8 484.0,498.7 484.8,498.7 485.6,498.6 486.4,498.6 487.2,498.5 488.0,498.5 488.8,498.4 489.6,498.4 490.4,498.3 491.2,498.2 492.0,498.2 492.8,498.1 493.6,498.0 494.4,498.0 495.2,497.9 496.0,497.8 496.8,497.7 497.6,497.6 498.4,497.6 499.2,497.5 500.0,497.4 500.8,497.3 501.6,497.2 502.4,497.1 503.2,496.9 504.0,496.8 504.8,496.7 505.6,496.6 506.4,496.4 507.2,496.3 508.0,496.1 508.8,496.0 509.6,495.8 510.4,495.6 511.2,495.5 512.0,495.3 512.8,495.1 513.6,494.8 514.4,494.6 515.2,494.4 516.0,494.1 516.8,493.8 517.6,493.5 518.4,493.2 519.2,492.9 520.0,492.5 520.8,492.1 521.6,491.6 522.4,491.1 523.2,490.6 524.0,490.0 524.8,489.4 525.6,488.7 526.4,487.9 527.2,487.1 528.0,486.1 528.8,485.1 529.6,483.9 530.4,482.6 531.2,481.2 532.0,479.7 532.8,477.9 533.6,476.1 534.4,474.0 535.2,471.7 536.0,469.3 536.8,466.6 537.6,463.7 538.4,460.7 539.2,457.3 540.0,453.8 540.8,450.1 541.6,446.1 542.4,442.0 543.2,437.7 544.0,433.3 544.8,428.8 545.6,424.3 546.4,419.8 547.2,415.4 548.0,411.2 548.8,407.2 549.6,403.7 550.4,400.8 551.2,398.4 552.0,396.7 552.8,395.9 553.6,395.8 554.4,396.6 555.2,398.2 556.0,400.5 556.8,403.5 557.6,407.0 558.4,411.0 559.2,415.2 560.0,419.7 560.8,424.3 561.6,429.0 562.4,433.6 563.2,438.1 564.0,442.5 564.8,446.8 565.6,450.9 566.4,454.8 567.2,458.4 568.0,461.9 568.8,465.1 569.6,468.1 570.4,470.8 571.2,473.4 572.0,475.8 572.8,477.9 573.6,479.9 574.4,481.7 575.2,483.4 576.0,484.8 576.8,486.2 577.6,487.4 578.4,488.5 579.2,489.5 580.0,490.4 580.8,491.2 581.6,492.0 582.4,492.7 583.2,493.3 584.0,493.8 584.8,494.3 585.6,494.8 586.4,495.2 587.2,495.6 588.0,496.0 588.8,496.3 589.6,496.6 590.4,496.9 591.2,497.2 592.0,497.5 592.8,497.7 593.6,497.9 594.4,498.1 595.2,498.4 596.0,498.5 596.8,498.7 597.6,498.9 598.4,499.1 599.2,499.2 600.0,499.4 600.8,499.5 601.6,499.6 602.4,499.8 603.2,499.9 604.0,500.0 604.8,500.1 605.6,500.2 606.4,500.3 607.2,500.4 608.0,500.5 608.8,500.6 609.6,500.7 610.4,500.8 611.2,500.9 612.0,500.9 612.8,501.0 613.6,501.1 614.4,501.1 615.2,501.2 616.0,501.3 616.8,501.3 617.6,501.4 618.4,501.5 619.2,501.5 620.0,501.6 620.8,501.6 621.6,501.7 622.4,501.7 623.2,501.8 624.0,501.8 624.8,501.8 625.6,501.9 626.4,501.9 627.2,502.0 628.0,502.0 628.8,502.0 629.6,502.1 630.4,502.1 631.2,502.1 632.0,502.2 632.8,502.2 633.6,502.2 634.4,502.3 635.2,502.3 636.0,502.3 636.8,502.4 637.6,502.4 638.4,502.4 639.2,502.4 640.0,502.5 640.8,502.5 641.6,502.5 642.4,502.5 643.2,502.6 644.0,502.6"/>
<polyline fill="none" stroke="#ff0000" stroke-width="1.25" stroke-linejoin="round" stroke-linecap="round"  points="447.2,499.9 448.0,499.9 448.8,499.9 449.6,499.9 450.4,499.9 451.2,499.8 452.0,499.8 452.8,499.8 453.6,499.8 454.4,499.8 455.2,499.8 456.0,499.7 456.8,499.7 457.6,499.7 458.4,499.7 459.2,499.7 460.0,499.7 460.8,499.6 461.6,499.6 462.4,499.6 463.2,499.6 464.0,499.6 464.8,499.5 465.6,499.5 466.4,499.5 467.2,499.5 468.0,499.4 468.8,499.4 469.6,499.4 470.4,499.4 471.2,499.3 472.0,499.3 472.8,499.3 473.6,499.2 474.4,499.2 475.2,499.2 476.0,499.2 476.8,499.1 477.6,499.1 478.4,499.0 479.2,499.0 480.0,499.0 480.8,498.9 481.6,498.9 482.4,498.9 483.2,498.8 484.0,498.8 484.8,498.7 485.6,498.7 486.4,498.6 487.2,498.6 488.0,498.5 488.8,498.5 489.6,498.4 490.4,498.3 491.2,498.3 492.0,498.2 492.8,498.2 493.6,498.1 494.4,498.0 495.2,498.0 496.0,497.9 496.8,497.8 497.6,497.7 498.4,497.6 499.2,497.5 500.0,497.4 500.8,497.4 501.6,497.3 502.4,497.1 503.2,497.0 504.0,496.9 504.8,496.8 505.6,496.7 506.4,496.6 507.2,496.4 508.0,496.3 508.8,496.1 509.6,496.0 510.4,495.8 511.2,495.6 512.0,495.4 512.8,495.2 513.6,495.0 514.4,494.8 515.2,494.6 516.0,494.3 516.8,494.1 517.6,493.8 518.4,493.5 519.2,493.2 520.0,492.8 520.8,492.4 521.6,492.0 522.4,491.6 523.2,491.1 524.0,490.6 524.8,490.0 525.6,489.3 526.4,488.6 527.2,487.8 528.0,487.0 528.8,486.0 529.6,484.9 530.4,483.8 531.2,482.5 532.0,481.0 532.8,479.5 533.6,477.7 534.4,475.8 535.2,473.7 536.0,471.5 536.8,469.0 537.6,466.3 538.4,463.4 539.2,460.3 540.0,456.9 540.8,453.4 541.6,449.6 542.4,445.7 543.2,441.5 544.0,437.2 544.8,432.8 545.6,428.3 546.4,423.8 547.2,419.3 548.0,414.9 548.8,410.7 549.6,406.8 550.4,403.4 551.2,400.5 552.0,398.2 552.8,396.6 553.6,395.9 554.4,396.0 555.2,396.8 556.0,398.5 556.8,400.9 557.6,404.0 558.4,407.5 559.2,411.5 560.0,415.8 560.8,420.3 561.6,424.9 562.4,429.6 563.2,434.2 564.0,438.7 564.8,443.1 565.6,447.4 566.4,451.4 567.2,455.3 568.0,458.9 568.8,462.3 569.6,465.5 570.4,468.5 571.2,471.2 572.0,473.7 572.8,476.1 573.6,478.2 574.4,480.2 575.2,481.9 576.0,483.6 576.8,485.0 577.6,486.4 578.4,487.6 579.2,488.7 580.0,489.6 580.8,490.5 581.6,491.3 582.4,492.1 583.2,492.7 584.0,493.3 584.8,493.9 585.6,494.4 586.4,494.9 587.2,495.3 588.0,495.7 588.8,496.0 589.6,496.4 590.4,496.7 591.2,497.0 592.0,497.2 592.8,497.5 593.6,497.7 594.4,498.0 595.2,498.2 596.0,498.4 596.8,498.6 597.6,498.7 598.4,498.9 599.2,499.1 600.0,499.2 600.8,499.4 601.6,499.5 602.4,499.7 603.2,499.8 604.0,499.9 604.8,500.0 605.6,500.1 606.4,500.2 607.2,500.3 608.0,500.4 608.8,500.5 609.6,500.6 610.4,500.7 611.2,500.8 612.0,500.9 612.8,500.9 613.6,501.0 614.4,501.1 615.2,501.2 616.0,501.2 616.8,501.3 617.6,501.3 618.4,501.4 619.2,501.5 620.0,501.5 620.8,501.6 621.6,501.6 622.4,501.7 623.2,501.7 624.0,501.8 624.8,501.8 625.6,501.8 626.4,501.9 627.2,501.9 628.0,502.0 628.8,502.0 629.6,502.0 630.4,502.1 631.2,502.1 632.0,502.1 632.8,502.2 633.6,502.2 634.4,502.2 635.2,502.3 636.0,502.3 636.8,502.3 637.6,502.4 638.4,502.4 639.2,502.4 640.0,502.4 640.8,502.5 641.6,502.5 642.4,502.5 643.2,502.5 644.0,502.6 644.8,502.6 645.6,502.6 646.4,502.6 647.2,502.6 648.0,502.7 648.8,502.7 649.6,502.7 650.4,502.7 651.2,502.7 652.0,502.7 652.8,502.8 653.6,502.8 654.4,502.8 655.2,502.8 656.0,502.8 656.8,502.8 657.6,502.9"/>
<polyline fill="none" stroke="#0000ff" stroke-width="1.10" stroke-linejoin="round" stroke-linecap="round"  points="458.4,500.8 459.2,500.8 460.0,500.8 460.8,500.8 461.6,500.8 462.4,500.8 463.2,500.8 464.0,500.8 464.8,500.8 465.6,500.8 466.4,500.8 467.2,500.8 468.0,500.8 468.8,500.8 469.6,500.8 470.4,500.8 471.2,500.8 472.0,500.8 472.8,500.8 473.6,500.8 474.4,500.8 475.2,500.8 476.0,500.8 476.8,500.8 477.6,500.8 478.4,500.8 479.2,500.8 480.0,500.8 480.8,500.8 481.6,500.8 482.4,500.8 483.2,500.8 484.0,500.8 484.8,500.8 485.6,500.8 486.4,500.8 487.2,500.8 488.0,500.8 488.8,500.8 489.6,500.8 490.4,500.8 491.2,500.8 492.0,500.8 492.8,500.8 493.6,500.8 494.4,500.8 495.2,500.8 496.0,500.8 496.8,500.8 497.6,500.8 498.4,500.8 499.2,500.8 500.0,500.8 500.8,500.8 501.6,500.8 502.4,500.8 503.2,500.8 504.0,500.8 504.8,500.8 505.6,500.8 506.4,500.8 507.2,500.8 508.0,500.8 508.8,500.8 509.6,500.8 510.4,500.8 511.2,500.8 512.0,500.8 512.8,500.8 513.6,500.8 514.4,500.8 515.2,500.8 516.0,500.8 516.8,500.8 517.6,500.8 518.4,500.9 519.2,500.9 520.0,500.9 520.8,500.9 521.6,500.9 522.4,500.9 523.2,500.9 524.0,500.9 524.8,500.9 525.6,500.9 526.4,500.9 527.2,500.9 528.0,500.9 528.8,501.0 529.6,501.0 530.4,501.0 531.2,501.0 532.0,501.0 532.8,501.0 533.6,501.1 534.4,501.1 535.2,501.1 536.0,501.1 536.8,501.2 537.6,501.2 538.4,501.2 539.2,501.2 540.0,501.3 540.8,501.3 541.6,501.4 542.4,501.4 543.2,501.4 544.0,501.5 544.8,501.5 545.6,501.6 546.4,501.6 547.2,501.7 548.0,501.7 548.8,501.8 549.6,501.9 550.4,501.9 551.2,502.0 552.0,502.1 552.8,502.1 553.6,502.2 554.4,502.3 555.2,502.3 556.0,502.4 556.8,502.4 557.6,502.5 558.4,502.6 559.2,502.6 560.0,502.7 560.8,502.8 561.6,502.8 562.4,502.9 563.2,502.9 564.0,503.0 564.8,503.0 565.6,503.1 566.4,503.1 567.2,503.2 568.0,503.2 568.8,503.3 569.6,503.3 570.4,503.3 571.2,503.4 572.0,503.4 572.8,503.4 573.6,503.5 574.4,503.5 575.2,503.5 576.0,503.5 576.8,503.6 577.6,503.6 578.4,503.6 579.2,503.6 580.0,503.6 580.8,503.6 581.6,503.7 582.4,503.7 583.2,503.7 584.0,503.7 584.8,503.7 585.6,503.7 586.4,503.7 587.2,503.7 588.0,503.7 588.8,503.7 589.6,503.7 590.4,503.7 591.2,503.7 592.0,503.8 592.8,503.8 593.6,503.8 594.4,503.8 595.2,503.8 596.0,503.8 596.8,503.8 597.6,503.8 598.4,503.8 599.2,503.8 600.0,503.8 600.8,503.8 601.6,503.8 602.4,503.8 603.2,503.8 604.0,503.8 604.8,503.8 605.6,503.8 606.4,503.8 607.2,503.8 608.0,503.8 608.8,503.8 609.6,503.8 610.4,503.8 611.2,503.8 612.0,503.8 612.8,503.8 613.6,503.8 614.4,503.8 615.2,503.8 616.0,503.8 616.8,503.8 617.6,503.8 618.4,503.8 619.2,503.8 620.0,503.8 620.8,503.8 621.6,503.8 622.4,503.8 623.2,503.8 624.0,503.8 624.8,503.8 625.6,503.8 626.4,503.8 627.2,503.8 628.0,503.8 628.8,503.8 629.6,503.8 630.4,503.8 631.2,503.8 632.0,503.8 632.8,503.8 633.6,503.8 634.4,503.8 635.2,503.8 636.0,503.8 636.8,503.8 637.6,503.8 638.4,503.8 639.2,503.8 640.0,503.8 640.8,503.8 641.6,503.8 642.4,503.8 643.2,503.8 644.0,503.8 644.8,503.8 645.6,503.8 646.4,503.8 647.2,503.8 648.0,503.8 648.8,503.8 649.6,503.8 650.4,503.8 651.2,503.8 652.0,503.8 652.8,503.8 653.6,503.8 654.4,503.8 655.2,503.8 656.0,503.8 656.8,503.8 657.6,503.8 658.4,503.8 659.2,503.8 660.0,503.8 660.8,503.8 661.6,503.8"/>
<polyline fill="none" stroke="#00ee00" stroke-width="1.10" stroke-linejoin="round" stroke-linecap="round"  points="519.2,499.3 520.0,499.2 520.8,499.1 521.6,499.0 522.4,498.8 523.2,498.7 524.0,498.5 524.8,498.3 525.6,498.1 526.4,497.9 527.2,497.6 528.0,497.3 528.8,497.0 529.6,496.6 530.4,496.1 531.2,495.6 532.0,495.0 532.8,494.3 533.6,493.5 534.4,492.6 535.2,491.7 536.0,490.6 536.8,489.4 537.6,488.2 538.4,487.0 539.2,485.7 540.0,484.6 540.8,483.7 541.6,483.1 542.4,482.8 543.2,483.0 544.0,483.5 544.8,484.4 545.6,485.5 546.4,486.8 547.2,488.1 548.0,489.4 548.8,490.7 549.6,491.9 550.4,493.0 551.2,494.0 552.0,494.9 552.8,495.7 553.6,496.5 554.4,497.1 555.2,497.7 556.0,498.2 556.8,498.6 557.6,499.1 558.4,499.4 559.2,499.7 560.0,500.0 560.8,500.3 561.6,500.5 562.4,500.8 563.2,501.0 564.0,501.2 564.8,501.3 565.6,501.5 566.4,501.6 567.2,501.8 568.0,501.9 568.8,502.0 569.6,502.1 570.4,502.2 571.2,502.3 572.0,502.4 572.8,502.5 573.6,502.5 574.4,502.6 575.2,502.7 576.0,502.7 576.8,502.8 577.6,502.8 578.4,502.9 579.2,502.9 580.0,503.0 580.8,503.0 581.6,503.1 582.4,503.1 583.2,503.1 584.0,503.2 584.8,503.2 585.6,503.2 586.4,503.2 587.2,503.3 588.0,503.3 588.8,503.3 589.6,503.3 590.4,503.3 591.2,503.4 592.0,503.4 592.8,503.4 593.6,503.4 594.4,503.4 595.2,503.4 596.0,503.4 596.8,503.5 597.6,503.5 598.4,503.5 599.2,503.5 600.0,503.5 600.8,503.5 601.6,503.5 602.4,503.5 603.2,503.5 604.0,503.5 604.8,503.5 605.6,503.6 606.4,503.6 607.2,503.6 608.0,503.6 608.8,503.6 609.6,503.6 610.4,503.6 611.2,503.6 612.0,503.6 612.8,503.6 613.6,503.6 614.4,503.6 615.2,503.6 616.0,503.6 616.8,503.6 617.6,503.6 618.4,503.6 619.2,503.6 620.0,503.6 620.8,503.6 621.6,503.6 622.4,503.7 623.2,503.7 624.0,503.7 624.8,503.7 625.6,503.7 626.4,503.7 627.2,503.7 628.0,503.7 628.8,503.7 629.6,503.7 630.4,503.7 631.2,503.7 632.0,503.7 632.8,503.7 633.6,503.7 634.4,503.7 635.2,503.7 636.0,503.7 636.8,503.7 637.6,503.7 638.4,503.7 639.2,503.7 640.0,503.7 640.8,503.7 641.6,503.7 642.4,503.7 643.2,503.7 644.0,503.7 644.8,503.7 645.6,503.7 646.4,503.7"/>
<polyline fill="none" stroke="#ff00ff" stroke-width="1.10" stroke-linejoin="round" stroke-linecap="round"  points="455.2,500.4 456.0,500.4 456.8,500.4 457.6,500.3 458.4,500.3 459.2,500.3 460.0,500.3 460.8,500.3 461.6,500.3 462.4,500.3 463.2,500.3 464.0,500.3 464.8,500.3 465.6,500.3 466.4,500.2 467.2,500.2 468.0,500.2 468.8,500.2 469.6,500.2 470.4,500.2 471.2,500.2 472.0,500.2 472.8,500.2 473.6,500.1 474.4,500.1 475.2,500.1 476.0,500.1 476.8,500.1 477.6,500.1 478.4,500.1 479.2,500.0 480.0,500.0 480.8,500.0 481.6,500.0 482.4,500.0 483.2,499.9 484.0,499.9 484.8,499.9 485.6,499.9 486.4,499.9 487.2,499.8 488.0,499.8 488.8,499.8 489.6,499.8 490.4,499.7 491.2,499.7 492.0,499.7 492.8,499.6 493.6,499.6 494.4,499.6 495.2,499.6 496.0,499.5 496.8,499.5 497.6,499.4 498.4,499.4 499.2,499.4 500.0,499.3 500.8,499.3 501.6,499.2 502.4,499.2 503.2,499.1 504.0,499.1 504.8,499.0 505.6,498.9 506.4,498.9 507.2,498.8 508.0,498.7 508.8,498.7 509.6,498.6 510.4,498.5 511.2,498.4 512.0,498.3 512.8,498.2 513.6,498.1 514.4,498.0 515.2,497.9 516.0,497.7 516.8,497.6 517.6,497.5 518.4,497.3 519.2,497.1 520.0,497.0 520.8,496.8 521.6,496.6 522.4,496.4 523.2,496.1 524.0,495.9 524.8,495.6 525.6,495.3 526.4,494.9 527.2,494.6 528.0,494.2 528.8,493.7 529.6,493.3 530.4,492.7 531.2,492.1 532.0,491.5 532.8,490.7 533.6,489.9 534.4,488.9 535.2,487.9 536.0,486.6 536.8,485.3 537.6,483.8 538.4,482.0 539.2,480.1 540.0,477.9 540.8,475.4 541.6,472.7 542.4,469.7 543.2,466.4 544.0,462.8 544.8,459.0 545.6,455.1 546.4,451.1 547.2,447.2 548.0,443.6 548.8,440.7 549.6,438.6 550.4,437.5 551.2,437.5 552.0,438.8 552.8,441.0 553.6,444.1 554.4,447.7 555.2,451.7 556.0,455.9 556.8,459.9 557.6,463.9 558.4,467.5 559.2,470.9 560.0,474.1 560.8,476.9 561.6,479.4 562.4,481.7 563.2,483.8 564.0,485.6 564.8,487.2 565.6,488.6 566.4,489.9 567.2,491.0 568.0,492.0 568.8,492.9 569.6,493.7 570.4,494.5 571.2,495.1 572.0,495.7 572.8,496.2 573.6,496.7 574.4,497.1 575.2,497.5 576.0,497.9 576.8,498.2 577.6,498.5 578.4,498.8 579.2,499.1 580.0,499.3 580.8,499.6 581.6,499.8 582.4,500.0 583.2,500.1 584.0,500.3 584.8,500.5"/>
<polyline fill="none" stroke="#808000" stroke-width="1.10" stroke-linejoin="round" stroke-linecap="round"  points="376.0,500.7 376.8,500.7 377.6,500.7 378.4,500.7 379.2,500.7 380.0,500.7 380.8,500.7 381.6,500.7 382.4,500.7 383.2,500.7 384.0,500.7 384.8,500.7 385.6,500.7 386.4,500.7 387.2,500.7 388.0,500.7 388.8,500.7 389.6,500.7 390.4,500.7 391.2,500.7 392.0,500.7 392.8,500.7 393.6,500.7 394.4,500.7 395.2,500.7 396.0,500.7 396.8,500.7 397.6,500.7 398.4,500.7 399.2,500.7 400.0,500.7 400.8,500.7 401.6,500.7 402.4,500.7 403.2,500.7 404.0,500.7 404.8,500.7 405.6,500.7 406.4,500.7 407.2,500.7 408.0,500.7 408.8,500.7 409.6,500.7 410.4,500.7 411.2,500.7 412.0,500.7 412.8,500.7 413.6,500.7 414.4,500.7 415.2,500.7 416.0,500.7 416.8,500.7 417.6,500.7 418.4,500.7 419.2,500.7 420.0,500.7 420.8,500.7 421.6,500.7 422.4,500.7 423.2,500.7 424.0,500.7 424.8,500.7 425.6,500.7 426.4,500.7 427.2,500.7 428.0,500.7 428.8,500.7 429.6,500.7 430.4,500.7 431.2,500.7 432.0,500.7 432.8,500.7 433.6,500.7 434.4,500.7 435.2,500.7 436.0,500.7 436.8,500.6 437.6,500.6 438.4,500.6 439.2,500.6 440.0,500.6 440.8,500.6 441.6,500.6 442.4,500.6 443.2,500.6 444.0,500.6 444.8,500.6 445.6,500.6 446.4,500.6 447.2,500.6 448.0,500.6 448.8,500.6 449.6,500.6 450.4,500.6 451.2,500.6 452.0,500.6 452.8,500.6 453.6,500.6 454.4,500.6 455.2,500.6 456.0,500.6 456.8,500.6 457.6,500.6 458.4,500.6 459.2,500.6 460.0,500.6 460.8,500.6 461.6,500.6 462.4,500.6 463.2,500.6 464.0,500.6 464.8,500.5 465.6,500.5 466.4,500.5 467.2,500.5 468.0,500.5 468.8,500.5 469.6,500.5 470.4,500.5 471.2,500.5 472.0,500.5 472.8,500.5 473.6,500.5 474.4,500.5 475.2,500.5 476.0,500.5 476.8,500.5 477.6,500.5 478.4,500.5 479.2,500.5 480.0,500.4 480.8,500.4 481.6,500.4 482.4,500.4 483.2,500.4 484.0,500.4 484.8,500.4 485.6,500.4 486.4,500.4 487.2,500.4 488.0,500.4 488.8,500.4 489.6,500.3 490.4,500.3 491.2,500.3 492.0,500.3 492.8,500.3 493.6,500.3 494.4,500.3 495.2,500.3 496.0,500.3 496.8,500.2 497.6,500.2 498.4,500.2 499.2,500.2 500.0,500.2 500.8,500.2 501.6,500.1 502.4,500.1 503.2,500.1 504.0,500.1 504.8,500.1 505.6,500.1 506.4,500.0 507.2,500.0 508.0,500.0 508.8,500.0 509.6,499.9 510.4,499.9 511.2,499.9 512.0,499.9 512.8,499.8 513.6,499.8 514.4,499.8 515.2,499.7 516.0,499.7 516.8,499.7 517.6,499.6 518.4,499.6 519.2,499.5 520.0,499.5 520.8,499.4 521.6,499.4 522.4,499.3 523.2,499.3 524.0,499.2 524.8,499.1 525.6,499.1 526.4,499.0 527.2,498.9 528.0,498.8 528.8,498.8 529.6,498.7 530.4,498.6 531.2,498.4 532.0,498.3 532.8,498.2 533.6,498.1 534.4,497.9 535.2,497.7 536.0,497.6 536.8,497.4 537.6,497.1 538.4,496.9 539.2,496.6 540.0,496.3 540.8,496.0 541.6,495.6 542.4,495.2 543.2,494.7 544.0,494.2 544.8,493.6 545.6,492.9 546.4,492.1 547.2,491.2 548.0,490.1 548.8,489.0 549.6,487.6 550.4,486.1 551.2,484.5 552.0,482.6 552.8,480.6 553.6,478.4 554.4,476.0 555.2,473.6 556.0,471.1 556.8,468.7 557.6,466.6 558.4,464.8 559.2,463.6 560.0,463.1 560.8,463.4 561.6,464.4 562.4,466.0 563.2,468.0 564.0,470.5 564.8,473.0 565.6,475.6 566.4,478.1 567.2,480.5 568.0,482.8 568.8,484.8 569.6,486.7 570.4,488.4 571.2,489.9 572.0,491.2 572.8,492.4 573.6,493.4 574.4,494.4 575.2,495.2 576.0,495.9 576.8,496.6 577.6,497.1 578.4,497.6 579.2,498.1 580.0,498.5 580.8,498.9 581.6,499.2 582.4,499.5 583.2,499.8 584.0,500.0 584.8,500.2 585.6,500.4 586.4,500.6 587.2,500.8 588.0,501.0 588.8,501.1 589.6,501.3 590.4,501.4 591.2,501.5 592.0,501.6 592.8,501.7 593.6,501.8 594.4,501.9 595.2,502.0 596.0,502.1 596.8,502.1 597.6,502.2 598.4,502.3 599.2,502.3 600.0,502.4 600.8,502.4 601.6,502.5 602.4,502.5 603.2,502.6 604.0,502.6 604.8,502.7 605.6,502.7 606.4,502.7 607.2,502.8 608.0,502.8 608.8,502.8 609.6,502.9 610.4,502.9 611.2,502.9 612.0,503.0 612.8,503.0 613.6,503.0 614.4,503.0 615.2,503.0 616.0,503.1 616.8,503.1 617.6,503.1 618.4,503.1 619.2,503.1 620.0,503.2 620.8,503.2 621.6,503.2 622.4,503.2 623.2,503.2 624.0,503.2 624.8,503.3 625.6,503.3 626.4,503.3 627.2,503.3 628.0,503.3 628.8,503.3 629.6,503.3 630.4,503.3 631.2,503.3 632.0,503.4 632.8,503.4 633.6,503.4 634.4,503.4 635.2,503.4 636.0,503.4 636.8,503.4 637.6,503.4 638.4,503.4 639.2,503.4 640.0,503.4 640.8,503.4 641.6,503.5 642.4,503.5 643.2,503.5 644.0,503.5 644.8,503.5 645.6,503.5 646.4,503.5 647.2,503.5 648.0,503.5 648.8,503.5 649.6,503.5 650.4,503.5 651.2,503.5 652.0,503.5 652.8,503.5 653.6,503.5 654.4,503.5 655.2,503.5 656.0,503.6 656.8,503.6 657.6,503.6 658.4,503.6 659.2,503.6 660.0,503.6 660.8,503.6 661.6,503.6 662.4,503.6 663.2,503.6 664.0,503.6 664.8,503.6 665.6,503.6 666.4,503.6 667.2,503.6 668.0,503.6 668.8,503.6 669.6,503.6 670.4,503.6 671.2,503.6 672.0,503.6 672.8,503.6 673.6,503.6 674.4,503.6 675.2,503.6 676.0,503.6 676.8,503.6 677.6,503.6 678.4,503.6"/>
<text x="392.40" y="304.60" font-size="12" fill="#000" textLength="139.1" lengthAdjust="spacingAndGlyphs">N<tspan dy="2.2" font-size="13.6">1s</tspan><tspan dy="-2.2" xml:space="preserve"> of DETA-g-GMA-MCC</tspan></text>
<text x="378.70" y="398.80" font-size="12" fill="#000" textLength="170.4" lengthAdjust="spacingAndGlyphs">N<tspan dy="2.2" font-size="13.6">1s</tspan><tspan dy="-2.2" xml:space="preserve"> of NEW-DETA-g-GMA-MCC</tspan></text>
<text x="392.40" y="343.20" font-size="11.55" text-anchor="start" textLength="104.2" lengthAdjust="spacingAndGlyphs" fill="#000">1 (399.2 eV, 1.06 at%)</text>
<text x="572.20" y="316.90" font-size="11.55" text-anchor="start" textLength="103.8" lengthAdjust="spacingAndGlyphs" fill="#000">2 (398.7 eV, 4.95 at%)</text>
<text x="572.80" y="338.80" font-size="11.55" text-anchor="start" textLength="103.2" lengthAdjust="spacingAndGlyphs" fill="#000">3 (398.3 eV, 4.60 at%)</text>
<text x="423.00" y="462.30" font-size="11.55" text-anchor="start" textLength="104" lengthAdjust="spacingAndGlyphs" fill="#000">1 (399.2 eV, 1.59 at%)</text>
<text x="572.20" y="420.40" font-size="11.55" text-anchor="start" textLength="103.8" lengthAdjust="spacingAndGlyphs" fill="#000">2 (398.7 eV, 6.71 at%)</text>
<text x="572.20" y="451.20" font-size="11.55" text-anchor="start" textLength="103.8" lengthAdjust="spacingAndGlyphs" fill="#000">3 (398.2 eV, 6.54 at%)</text>
<line x1="496.60" y1="338.00" x2="541.40" y2="356.20" stroke="#222" stroke-width="0.90" />
<line x1="551.00" y1="325.40" x2="571.30" y2="312.50" stroke="#222" stroke-width="0.90" />
<line x1="557.20" y1="341.90" x2="570.70" y2="334.40" stroke="#222" stroke-width="0.90" />
<line x1="497.00" y1="463.40" x2="542.90" y2="481.70" stroke="#222" stroke-width="0.90" />
<line x1="551.80" y1="435.30" x2="571.30" y2="420.90" stroke="#222" stroke-width="0.90" />
<line x1="559.30" y1="461.90" x2="575.20" y2="451.40" stroke="#222" stroke-width="0.90" />
<text x="362.30" y="282.50" font-size="15.00" font-weight="bold" text-anchor="start" fill="#000">d</text>
<text x="477.00" y="554.50" font-size="14.60" text-anchor="start" textLength="126" lengthAdjust="spacingAndGlyphs" xml:space="preserve" fill="#000">Binding&#160; Energy (eV)</text>
<text x="371.90" y="406.50" font-size="13.00" text-anchor="middle" transform="rotate(-90 371.90 406.50)" fill="#000">Intensity (Arb. Unit)</text>
</svg></body></html>
